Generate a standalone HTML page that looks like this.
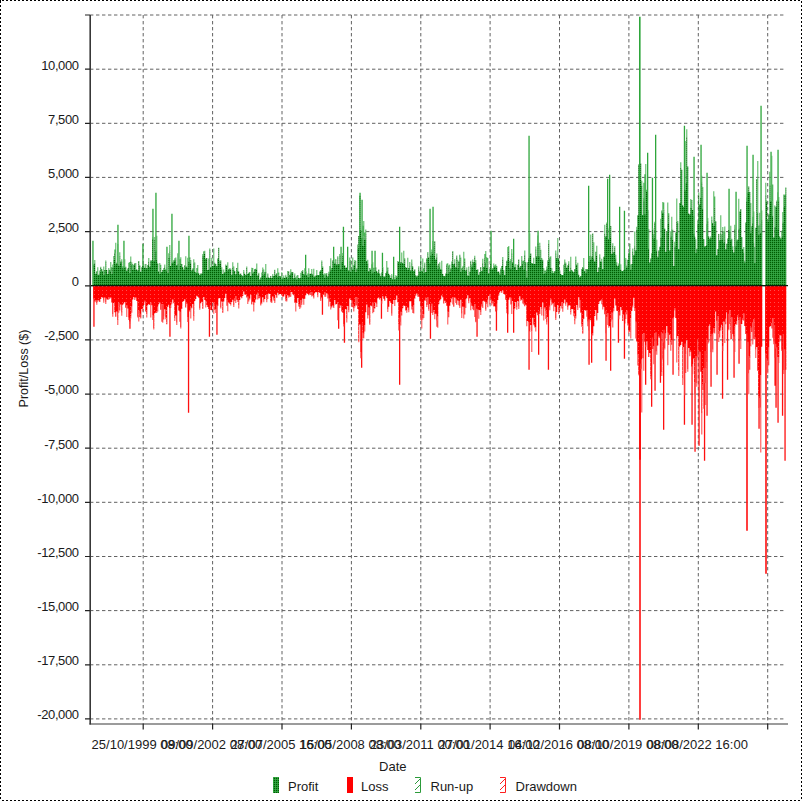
<!DOCTYPE html>
<html><head><meta charset="utf-8"><title>Profit/Loss</title>
<style>
html,body{margin:0;padding:0;background:#fff;}
body{width:802px;height:801px;overflow:hidden;font-family:"Liberation Sans",sans-serif;}
svg{display:block;}
text{font-family:"Liberation Sans",sans-serif;font-size:13px;fill:#1a1a1a;}
</style></head><body>
<svg width="802" height="801" viewBox="0 0 802 801">
<defs>
<pattern id="pg" width="2" height="2" patternUnits="userSpaceOnUse"><rect width="2" height="2" fill="#2a9837"/><rect x="0" y="0" width="1" height="1" fill="#005c00"/><rect x="1" y="1" width="1" height="1" fill="#36a846"/></pattern>
<pattern id="pr" width="4" height="4" patternUnits="userSpaceOnUse"><rect width="4" height="4" fill="#ff0000"/><rect x="2" y="2" width="1" height="1" fill="#ff4d4d"/></pattern>
<pattern id="plg" width="2" height="2" patternUnits="userSpaceOnUse"><rect width="2" height="2" fill="#2faa3c"/><rect x="0" y="1" width="2" height="1" fill="#a6dba6"/></pattern>
<pattern id="plr" width="2" height="2" patternUnits="userSpaceOnUse"><rect width="2" height="2" fill="#ff1a1a"/><rect x="0" y="1" width="2" height="1" fill="#ffa8a8"/></pattern>
</defs>
<rect width="802" height="801" fill="#fff"/>
<path d="M0 0.5H802M0 800.5H802" stroke="#000" stroke-width="1" stroke-dasharray="2 2" stroke-dashoffset="2" fill="none"/>
<path d="M0.5 0V801M801.5 0V801" stroke="#000" stroke-width="1" stroke-dasharray="2 2" stroke-dashoffset="3" fill="none"/><rect x="0" y="0" width="1" height="1" fill="#000"/>
<path d="M90 15H786M90 69.2H786M90 123.3H786M90 177.4H786M90 231.6H786M90 285.8H786M90 339.9H786M90 394.1H786M90 448.2H786M90 502.3H786M90 556.5H786M90 610.6H786M90 664.8H786M90 718.9H786M143.2 15V724M212.6 15V724M282 15V724M351.4 15V724M420.8 15V724M490.1 15V724M559.5 15V724M628.9 15V724M698.3 15V724M767.7 15V724" stroke="#626262" stroke-width="1" stroke-dasharray="3.4 2.6" fill="none"/>
<path d="M92.3 285.7V240.7h1.3V285.7zM117.3 285.7V224.7h1.3V285.7zM123.3 285.7V240.7h1.3V285.7zM142.3 285.7V243.7h1.3V285.7zM152.3 285.7V208.7h1.3V285.7zM155.3 285.7V192.7h1.3V285.7zM166.3 285.7V246.7h1.3V285.7zM171.3 285.7V213.7h1.3V285.7zM178.3 285.7V240.7h1.3V285.7zM188.3 285.7V235.7h1.3V285.7zM305 285.7V254.7h1.3V285.7zM333 285.7V246.7h1.3V285.7zM340.4 285.7V246.7h1.3V285.7zM342.8 285.7V226.7h1.3V285.7zM347 285.7V246.7h1.3V285.7zM359.4 285.7V192.7h1.3V285.7zM361.4 285.7V199.7h1.3V285.7zM371.4 285.7V250.7h1.3V285.7zM374.4 285.7V250.7h1.3V285.7zM381.8 285.7V252.7h1.3V285.7zM393 285.7V256.7h1.3V285.7zM399 285.7V226.7h1.3V285.7zM429.4 285.7V208.7h1.3V285.7zM432.4 285.7V206.7h1.3V285.7zM490.4 285.7V230.7h1.3V285.7zM513 285.7V238.7h1.3V285.7zM528.4 285.7V135.7h1.3V285.7zM537.4 285.7V230.7h1.3V285.7zM588 285.7V185.7h1.3V285.7zM607 285.7V178.7h1.3V285.7zM609 285.7V174.7h1.3V285.7zM619 285.7V206.7h1.3V285.7zM623.8 285.7V210.7h1.3V285.7zM639.1 285.7V16.7h1.3V285.7zM639 285.7V16.7h1.6V285.7zM643.4 285.7V182.7h1.3V285.7zM647 285.7V152.7h1.3V285.7zM651.8 285.7V177.7h1.3V285.7zM655 285.7V134.7h1.3V285.7zM683.8 285.7V125.7h1.3V285.7zM693.4 285.7V156.7h1.3V285.7zM700.4 285.7V144.7h1.3V285.7zM706.4 285.7V172.7h1.3V285.7zM728.4 285.7V188.7h1.3V285.7zM735.4 285.7V191.7h1.3V285.7zM746.4 285.7V145.7h1.3V285.7zM752.4 285.7V154.7h1.3V285.7zM760.4 285.7V105.7h1.3V285.7zM770.4 285.7V151.7h1.3V285.7zM777.4 285.7V149.7h1.3V285.7z" fill="#2ea63b"/>
<path d="M93.3 285.7V326.7h1.3V285.7zM129.3 285.7V328.7h1.3V285.7zM169.3 285.7V336.7h1.3V285.7zM187.9 285.7V412.7h1.3V285.7zM208.8 285.7V336.7h1.3V285.7zM216.3 285.7V334.7h1.3V285.7zM321.8 285.7V314.7h1.3V285.7zM338 285.7V328.7h1.3V285.7zM343.8 285.7V342.7h1.3V285.7zM361 285.7V367.7h1.3V285.7zM380.8 285.7V318.7h1.3V285.7zM399 285.7V384.7h1.3V285.7zM429.8 285.7V338.7h1.3V285.7zM476.4 285.7V336.7h1.3V285.7zM495.8 285.7V330.7h1.3V285.7zM507 285.7V332.7h1.3V285.7zM513 285.7V332.7h1.3V285.7zM528.4 285.7V369.7h1.3V285.7zM538 285.7V354.7h1.3V285.7zM547.8 285.7V369.7h1.3V285.7zM588.4 285.7V364.7h1.3V285.7zM591 285.7V362.7h1.3V285.7zM605.4 285.7V360.7h1.3V285.7zM610 285.7V370.7h1.3V285.7zM617.8 285.7V342.7h1.3V285.7zM623.8 285.7V358.7h1.3V285.7zM639.4 285.7V719.7h1.3V285.7zM639.2 285.7V719.7h1.6V285.7zM639 285.7V459.7h2V285.7zM645 285.7V384.7h1.3V285.7zM651 285.7V406.7h1.3V285.7zM654.4 285.7V390.7h1.3V285.7zM659.8 285.7V382.7h1.3V285.7zM663 285.7V429.7h1.3V285.7zM672.4 285.7V374.7h1.3V285.7zM683.8 285.7V424.7h1.3V285.7zM691.4 285.7V424.7h1.3V285.7zM694.4 285.7V451.7h1.3V285.7zM698.4 285.7V445.7h1.3V285.7zM703.9 285.7V460.7h1.3V285.7zM706.4 285.7V415.7h1.3V285.7zM710.4 285.7V386.7h1.3V285.7zM716.4 285.7V374.7h1.3V285.7zM721.9 285.7V398.7h1.3V285.7zM726.9 285.7V379.7h1.3V285.7zM733.4 285.7V377.7h1.3V285.7zM738.4 285.7V363.7h1.3V285.7zM746.4 285.7V530.7h1.3V285.7zM746.2 285.7V530.7h1.6V285.7zM758.4 285.7V428.7h1.3V285.7zM765.4 285.7V573.7h1.3V285.7zM765.2 285.7V573.7h1.6V285.7zM774.4 285.7V385.7h1.3V285.7zM775.4 285.7V407.7h1.3V285.7zM777.4 285.7V422.7h1.3V285.7zM781.9 285.7V415.7h1.3V285.7zM784.4 285.7V460.7h1.3V285.7z" fill="#ff1010"/>
<path d="M94.3 263.1V259.9h1V263.1zM96.3 271.5V271.1h1V271.5zM97.3 274.4V267.2h1V274.4zM99.3 272.3V270.5h1V272.3zM100.3 267.2V266.7h1V267.2zM103.3 275.1V266.5h1V275.1zM105.3 261.4V260.5h1V261.4zM108.3 270.2V267.9h1V270.2zM110.3 271.2V262.1h1V271.2zM111.3 273.7V267.2h1V273.7zM112.3 267.5V264.5h1V267.5zM113.3 259.7V256.1h1V259.7zM114.3 252.7V249.5h1V252.7zM115.3 264.3V242.8h1V264.3zM117.3 264V244h1V264zM119.3 255.8V252.3h1V255.8zM120.3 262.6V261.2h1V262.6zM121.3 260.9V259.2h1V260.9zM122.3 268.3V266.3h1V268.3zM123.3 268.6V266h1V268.6zM124.3 267.8V259.3h1V267.8zM128.3 267.3V262.7h1V267.3zM129.3 272.9V262h1V272.9zM130.3 260.9V256.6h1V260.9zM131.3 264.5V262.3h1V264.5zM132.3 269.8V264h1V269.8zM135.3 269.8V263.1h1V269.8zM148.3 261.9V258.1h1V261.9zM152.3 239V237.2h1V239zM154.3 239.8V237h1V239.8zM155.3 251.8V250.1h1V251.8zM156.3 260.3V235.8h1V260.3zM159.3 273.7V262.9h1V273.7zM160.3 267.4V264.7h1V267.4zM163.3 269.9V268h1V269.9zM164.3 266.6V264.4h1V266.6zM166.3 271V267.5h1V271zM168.3 257.5V253.3h1V257.5zM169.3 250.2V245h1V250.2zM174.3 260.4V258.2h1V260.4zM175.3 258.7V257.4h1V258.7zM177.3 264V253.3h1V264zM179.3 265.9V259.2h1V265.9zM180.3 264V257.3h1V264zM185.3 267V256.2h1V267zM187.3 267.5V257.7h1V267.5zM188.3 262.3V261.5h1V262.3zM189.3 257.9V257.1h1V257.9zM190.3 263.3V260h1V263.3zM193.3 262.4V259.3h1V262.4zM194.3 271.2V262.5h1V271.2zM196.3 273V268.1h1V273zM197.3 271.4V265h1V271.4zM202.3 256.3V253.9h1V256.3zM204.3 253.7V250.8h1V253.7zM208.3 269.2V258.4h1V269.2zM209.3 250.1V248.6h1V250.1zM211.3 260.3V257.7h1V260.3zM213.3 265.2V248.5h1V265.2zM219.3 264V260.8h1V264zM220.3 261.1V260.3h1V261.1zM221.3 269.5V267.3h1V269.5zM223.3 272.8V269.6h1V272.8zM225.3 266V264.5h1V266zM227.3 270.5V262.3h1V270.5zM229.3 268.6V268h1V268.6zM230.3 269.8V268.8h1V269.8zM232.3 267.3V262.2h1V267.3zM233.3 269.4V266.6h1V269.4zM237.3 270.7V262.7h1V270.7zM243.3 271.6V270.1h1V271.6zM246.3 267.7V266.4h1V267.7zM251.3 269.8V267.7h1V269.8zM252.3 273.3V268.1h1V273.3zM256.3 269.5V263.6h1V269.5zM258.3 273.4V272.7h1V273.4zM261.3 275.5V272.4h1V275.5zM262.3 270.3V267.6h1V270.3zM263.3 274.4V269.4h1V274.4zM265.3 272.1V263.9h1V272.1zM267.3 274.2V273.4h1V274.2zM272.3 275.4V273.9h1V275.4zM274.3 270.3V269.8h1V270.3zM277.3 276.7V268.3h1V276.7zM278.3 275.4V272.5h1V275.4zM281.3 279.1V272.2h1V279.1zM282.3 278.2V277.5h1V278.2zM283.3 276.9V275.5h1V276.9zM285.3 275.8V274.7h1V275.8zM287.3 278.4V270.9h1V278.4zM288.3 271.6V271.2h1V271.6zM290.3 272.7V269.3h1V272.7zM292.3 272.6V272h1V272.6zM294.3 274.8V273.5h1V274.8zM296.3 279.2V275.7h1V279.2zM300.3 277.4V272.7h1V277.4zM301.3 272.3V270.9h1V272.3zM302.3 270.5V270.1h1V270.5zM304.3 274.7V268.2h1V274.7zM305.3 272V271h1V272zM307.3 276.6V273.5h1V276.6zM308.3 276.8V268.2h1V276.8zM311.3 272.4V269.1h1V272.4zM313.3 276.5V268.7h1V276.5zM316.3 274.7V270h1V274.7zM321.3 261.5V260.5h1V261.5zM322.3 268V266.4h1V268zM324.3 277.6V273.3h1V277.6zM325.3 274.6V273.8h1V274.6zM326.3 274.6V273.1h1V274.6zM328.3 273.5V271.7h1V273.5zM329.3 271.2V265.9h1V271.2zM330.3 269.9V258.3h1V269.9zM333.3 260.5V257.5h1V260.5zM335.3 259.9V259.1h1V259.9zM337.3 256.9V256.3h1V256.9zM339.3 255.2V254.1h1V255.2zM342.3 255.7V253.1h1V255.7zM349.3 260.5V257.6h1V260.5zM350.3 271.4V260.3h1V271.4zM352.3 269.6V257.5h1V269.6zM354.3 261.7V260h1V261.7zM355.3 271.9V260.8h1V271.9zM357.3 248.6V244.5h1V248.6zM359.3 196.1V195.4h1V196.1zM362.3 245.9V225.8h1V245.9zM363.3 236.6V221.1h1V236.6zM364.3 239.5V232.5h1V239.5zM365.3 233.7V229.6h1V233.7zM367.3 263.6V259.7h1V263.6zM371.3 273.4V264.2h1V273.4zM372.3 272.5V262.2h1V272.5zM381.3 273.1V272.3h1V273.1zM382.3 268.5V266.9h1V268.5zM386.3 271.1V261.1h1V271.1zM391.3 275.7V274h1V275.7zM395.3 278.3V275.3h1V278.3zM396.3 277V276.1h1V277zM397.3 262.6V261h1V262.6zM401.3 261.5V252.4h1V261.5zM403.3 263.9V250.7h1V263.9zM407.3 269.8V257.8h1V269.8zM409.3 265.2V262.1h1V265.2zM411.3 262.4V259.4h1V262.4zM414.3 269.9V269.3h1V269.9zM418.3 268.2V266.3h1V268.2zM420.3 261.3V257.2h1V261.3zM422.3 271.3V258.4h1V271.3zM423.3 273V268.2h1V273zM424.3 264.3V262.5h1V264.3zM426.3 258.7V258.2h1V258.7zM427.3 252.4V251.9h1V252.4zM430.3 255.5V252h1V255.5zM431.3 251.4V249.6h1V251.4zM432.3 254.1V241.1h1V254.1zM433.3 255.9V246.4h1V255.9zM436.3 257.1V253.5h1V257.1zM437.3 268.9V265.5h1V268.9zM439.3 266.5V262.3h1V266.5zM441.3 269.3V260.7h1V269.3zM446.3 265.1V263.8h1V265.1zM447.3 273.5V263.2h1V273.5zM448.3 266.7V265.5h1V266.7zM449.3 272V264.6h1V272zM451.3 263.5V261.4h1V263.5zM452.3 251.5V251h1V251.5zM454.3 263.1V259.3h1V263.1zM456.3 256.4V255.6h1V256.4zM457.3 268.3V259.7h1V268.3zM460.3 271.8V257.6h1V271.8zM461.3 270.3V268.3h1V270.3zM462.3 267.9V266.2h1V267.9zM463.3 270V251.8h1V270zM464.3 261.5V258.4h1V261.5zM466.3 270V267.4h1V270zM468.3 275.9V266.6h1V275.9zM470.3 261.5V260.7h1V261.5zM471.3 267.1V264.4h1V267.1zM472.3 261.6V259.4h1V261.6zM474.3 257.2V255.8h1V257.2zM475.3 262.8V260h1V262.8zM482.3 262.7V258.8h1V262.7zM484.3 258.2V254.1h1V258.2zM485.3 262.4V251h1V262.4zM486.3 267.8V257.2h1V267.8zM487.3 261V258h1V261zM488.3 273.6V272.9h1V273.6zM490.3 264.1V257.2h1V264.1zM493.3 265.5V263.6h1V265.5zM494.3 267V265.5h1V267zM495.3 267V264.3h1V267zM496.3 267.8V266.1h1V267.8zM499.3 275V273.2h1V275zM500.3 269.6V268.3h1V269.6zM502.3 259.3V257h1V259.3zM507.3 258.3V247.1h1V258.3zM508.3 251.1V246h1V251.1zM509.3 268V260.9h1V268zM510.3 268.6V259.1h1V268.6zM511.3 253.1V248.9h1V253.1zM515.3 267V263.9h1V267zM521.3 259.3V255.9h1V259.3zM522.3 264.3V261.1h1V264.3zM523.3 269.2V260.4h1V269.2zM524.3 255V250.6h1V255zM526.3 277.6V270.8h1V277.6zM529.3 256V233.2h1V256zM533.3 263.5V257.8h1V263.5zM535.3 248.7V246.6h1V248.7zM537.3 242.7V235.5h1V242.7zM539.3 245.7V242.8h1V245.7zM540.3 259.7V249.7h1V259.7zM541.3 259V258h1V259zM542.3 260.5V259.7h1V260.5zM543.3 273.7V268h1V273.7zM544.3 272.8V270.6h1V272.8zM545.3 272.2V270.4h1V272.2zM546.3 269.1V266.4h1V269.1zM547.3 262.1V260.2h1V262.1zM548.3 244.1V240.1h1V244.1zM549.3 258.8V257.3h1V258.8zM550.3 268V256.3h1V268zM551.3 272.9V267.9h1V272.9zM552.3 273.1V271.1h1V273.1zM555.3 253.1V250.6h1V253.1zM557.3 254.2V238h1V254.2zM563.3 272.6V264.8h1V272.6zM564.3 262.4V259.6h1V262.4zM565.3 263.4V262.5h1V263.4zM568.3 263.3V261.2h1V263.3zM570.3 267.3V256.8h1V267.3zM575.3 259.7V256.6h1V259.7zM577.3 270.2V262.7h1V270.2zM583.3 268.2V258h1V268.2zM585.3 273V268.9h1V273zM590.3 259.4V234.5h1V259.4zM593.3 258.4V242.3h1V258.4zM596.3 255.7V245.8h1V255.7zM599.3 257.1V254.2h1V257.1zM601.3 261.4V258.8h1V261.4zM604.3 233.5V224.7h1V233.5zM606.3 223.9V222.5h1V223.9zM612.3 245.6V243.3h1V245.6zM614.3 248.1V246.1h1V248.1zM615.3 258.4V254.7h1V258.4zM616.3 264.7V262.3h1V264.7zM618.3 264.7V263.5h1V264.7zM620.3 269.9V264.3h1V269.9zM625.3 259.2V258.1h1V259.2zM626.3 267.6V265.4h1V267.6zM629.3 244V243.4h1V244zM630.3 269.6V264.6h1V269.6zM632.3 251.9V248.4h1V251.9zM634.3 246.3V231.5h1V246.3zM636.3 229.7V226.8h1V229.7zM641.3 186.1V180.7h1V186.1zM643.3 201.3V197.9h1V201.3zM644.3 214.4V174.3h1V214.4zM645.3 192.1V163.9h1V192.1zM646.3 191.8V189.7h1V191.8zM648.3 248.7V228.9h1V248.7zM652.3 230.2V228.3h1V230.2zM653.3 238.5V234.2h1V238.5zM654.3 223.1V221.7h1V223.1zM656.3 250.4V239.7h1V250.4zM657.3 257.2V256.4h1V257.2zM660.3 237.6V218.7h1V237.6zM662.3 213.1V201.9h1V213.1zM663.3 209.5V202.4h1V209.5zM666.3 232.3V231.5h1V232.3zM667.3 223.5V202.5h1V223.5zM668.3 215.1V213.3h1V215.1zM670.3 236.5V231.3h1V236.5zM671.3 228.5V216.8h1V228.5zM672.3 239.8V229.8h1V239.8zM674.3 246.4V241.8h1V246.4zM676.3 221.4V198.6h1V221.4zM677.3 223V221h1V223zM680.3 167.8V162.3h1V167.8zM685.3 182.7V141h1V182.7zM686.3 136.7V129.2h1V136.7zM690.3 207.9V199.1h1V207.9zM693.3 234.1V216.1h1V234.1zM695.3 253.1V239.3h1V253.1zM697.3 223.8V220.6h1V223.8zM698.3 195.7V192.6h1V195.7zM701.3 182.4V175.7h1V182.4zM702.3 208.9V186.9h1V208.9zM706.3 245V224.1h1V245zM707.3 220.9V218h1V220.9zM710.3 238V236.2h1V238zM711.3 219.5V216.4h1V219.5zM713.3 225.7V191.2h1V225.7zM714.3 207.2V196.5h1V207.2zM720.3 232.9V215.3h1V232.9zM721.3 239.6V234.3h1V239.6zM722.3 231.6V227.1h1V231.6zM723.3 242.4V231.6h1V242.4zM724.3 239.1V226.6h1V239.1zM730.3 240.2V225.7h1V240.2zM732.3 249.9V246.3h1V249.9zM734.3 228.7V224.8h1V228.7zM738.3 228.7V198.7h1V228.7zM743.3 252.6V247h1V252.6zM744.3 262.6V260.7h1V262.6zM746.3 201.5V197.5h1V201.5zM750.3 233V203h1V233zM752.3 223V216.7h1V223zM753.3 242.7V211.4h1V242.7zM754.3 263.1V247h1V263.1zM757.3 212.6V161.1h1V212.6zM758.3 234.5V225.6h1V234.5zM759.3 224.3V212.7h1V224.3zM761.3 220.2V210.6h1V220.2zM765.3 194.5V182.7h1V194.5zM766.3 202.2V200.6h1V202.2zM767.3 222V219.3h1V222zM769.3 185.1V171.8h1V185.1zM771.3 200.9V155.8h1V200.9zM772.3 216.3V184.4h1V216.3zM774.3 226.9V205.6h1V226.9zM776.3 201.5V200.4h1V201.5zM777.3 229.2V192.3h1V229.2zM778.3 200.7V196.9h1V200.7zM781.3 236.8V230.8h1V236.8zM782.3 222.6V212.1h1V222.6zM783.3 206.5V194.5h1V206.5z" fill="#4db458"/>
<path d="M94.3 301.2V302.3h1V301.2zM95.3 300.1V301.4h1V300.1zM96.3 303.3V304.7h1V303.3zM97.3 300V301.7h1V300zM102.3 297.4V297.9h1V297.4zM103.3 300.7V302.8h1V300.7zM105.3 302.1V304.1h1V302.1zM107.3 299.6V300.1h1V299.6zM108.3 296.9V299.5h1V296.9zM112.3 314V316.7h1V314zM117.3 320.2V324.9h1V320.2zM118.3 302.8V312.8h1V302.8zM119.3 307.3V310.4h1V307.3zM121.3 312.8V315.8h1V312.8zM126.3 305.2V317h1V305.2zM128.3 317.8V320.1h1V317.8zM129.3 321.4V323.9h1V321.4zM130.3 315.9V318.6h1V315.9zM131.3 306.6V312.8h1V306.6zM134.3 299.4V300.1h1V299.4zM137.3 316.8V317.4h1V316.8zM138.3 310.7V321.4h1V310.7zM139.3 313.8V317.1h1V313.8zM140.3 317.7V318.6h1V317.7zM142.3 308.6V311.5h1V308.6zM144.3 300.8V302.2h1V300.8zM146.3 314.5V317.6h1V314.5zM150.3 302.5V317.5h1V302.5zM152.3 315.5V319.9h1V315.5zM153.3 328V329.5h1V328zM155.3 312.4V313h1V312.4zM156.3 311V312.9h1V311zM157.3 306.7V311.4h1V306.7zM161.3 304.2V321.8h1V304.2zM162.3 304.2V322.7h1V304.2zM163.3 316V319.5h1V316zM165.3 317.6V319.2h1V317.6zM170.3 305.1V308h1V305.1zM171.3 302.6V304.3h1V302.6zM174.3 318.9V321.1h1V318.9zM176.3 322.8V324.9h1V322.8zM179.3 311.8V321.7h1V311.8zM180.3 327.2V328.5h1V327.2zM187.3 316.9V321.9h1V316.9zM190.3 307.3V318.5h1V307.3zM193.3 316.6V320.7h1V316.6zM199.3 308.3V309.8h1V308.3zM202.3 308.5V309.1h1V308.5zM205.3 300.9V307.4h1V300.9zM213.3 303.4V313.7h1V303.4zM214.3 309.6V310h1V309.6zM215.3 309V313h1V309zM220.3 307.6V308.4h1V307.6zM222.3 312.1V312.9h1V312.1zM226.3 299.7V305.7h1V299.7zM227.3 302.7V311.3h1V302.7zM230.3 304.2V305.6h1V304.2zM233.3 305V306.9h1V305zM234.3 299.3V300.9h1V299.3zM235.3 295.9V302.9h1V295.9zM237.3 300.1V302h1V300.1zM238.3 305.3V308.4h1V305.3zM247.3 296.5V304.1h1V296.5zM248.3 300.2V301.5h1V300.2zM249.3 298.5V299.6h1V298.5zM251.3 304.2V304.6h1V304.2zM253.3 304.9V311.6h1V304.9zM257.3 292.7V299.6h1V292.7zM258.3 296.6V298.3h1V296.6zM259.3 296.7V298.3h1V296.7zM260.3 304.8V305.6h1V304.8zM261.3 302.7V303.8h1V302.7zM263.3 300.7V302.2h1V300.7zM266.3 300.2V302.2h1V300.2zM267.3 294.1V299h1V294.1zM270.3 300.7V302.2h1V300.7zM273.3 298.8V300.5h1V298.8zM274.3 301.6V302.9h1V301.6zM276.3 297.2V298.1h1V297.2zM278.3 293.9V295.3h1V293.9zM282.3 296.2V297.2h1V296.2zM285.3 299.4V301.2h1V299.4zM286.3 300.6V301.6h1V300.6zM288.3 296.7V297.7h1V296.7zM289.3 295.7V296.9h1V295.7zM290.3 292V296.7h1V292zM295.3 302.5V311.6h1V302.5zM298.3 304V306.4h1V304zM299.3 307.3V308.9h1V307.3zM300.3 299.9V307.4h1V299.9zM301.3 303.3V304.8h1V303.3zM303.3 299.3V304.8h1V299.3zM309.3 293.5V294.5h1V293.5zM310.3 292.5V295h1V292.5zM311.3 292.1V296.6h1V292.1zM312.3 295.1V295.8h1V295.1zM313.3 297.6V298.4h1V297.6zM317.3 295.6V297.3h1V295.6zM320.3 299.7V301h1V299.7zM324.3 292.2V296.8h1V292.2zM325.3 295.4V296.7h1V295.4zM327.3 294.6V298.4h1V294.6zM328.3 298.3V306.6h1V298.3zM330.3 306V309.5h1V306zM333.3 307.5V308h1V307.5zM337.3 302.3V320.2h1V302.3zM343.3 324.2V326.6h1V324.2zM346.3 319.1V322.5h1V319.1zM348.3 310.3V312.2h1V310.3zM351.3 300.5V307.1h1V300.5zM352.3 304.2V307.2h1V304.2zM353.3 308.6V311.6h1V308.6zM354.3 306.6V307.4h1V306.6zM355.3 296.9V305.6h1V296.9zM356.3 297.6V305.6h1V297.6zM358.3 341.3V342.2h1V341.3zM360.3 352.3V358.2h1V352.3zM362.3 332.8V338.4h1V332.8zM363.3 334.1V338.3h1V334.1zM364.3 325.1V331.6h1V325.1zM367.3 314.9V318.5h1V314.9zM368.3 307.5V315.2h1V307.5zM369.3 323.8V324.7h1V323.8zM372.3 302.4V313.2h1V302.4zM373.3 308.2V311.9h1V308.2zM376.3 303.9V307h1V303.9zM381.3 301.1V303.7h1V301.1zM384.3 299.9V300.9h1V299.9zM387.3 309.6V312.1h1V309.6zM391.3 313.7V315.7h1V313.7zM394.3 300.2V305.9h1V300.2zM398.3 324.1V330.5h1V324.1zM399.3 317.4V321.7h1V317.4zM400.3 311.7V325.6h1V311.7zM401.3 312.6V315.6h1V312.6zM406.3 311.4V312.7h1V311.4zM408.3 310.6V312.2h1V310.6zM411.3 306.5V309.6h1V306.5zM412.3 307.4V313.1h1V307.4zM413.3 305.2V313.4h1V305.2zM415.3 294.8V296h1V294.8zM417.3 295.3V296.7h1V295.3zM420.3 306.2V320.2h1V306.2zM421.3 308.7V328.6h1V308.7zM422.3 318.6V319.6h1V318.6zM423.3 313.9V317.9h1V313.9zM425.3 297.8V300.8h1V297.8zM426.3 305V307h1V305zM427.3 297.2V304.7h1V297.2zM428.3 309.3V310.8h1V309.3zM431.3 303.8V313h1V303.8zM432.3 311V315.1h1V311zM433.3 310.1V312.3h1V310.1zM434.3 314.7V319.2h1V314.7zM436.3 320.8V326.8h1V320.8zM437.3 316.4V327.8h1V316.4zM442.3 297.2V297.6h1V297.2zM447.3 311.8V324.6h1V311.8zM448.3 312.5V317.2h1V312.5zM452.3 297.1V304.5h1V297.1zM453.3 306.3V307.1h1V306.3zM455.3 298.8V302.9h1V298.8zM456.3 304.4V305h1V304.4zM458.3 300.9V305.2h1V300.9zM459.3 306.6V308h1V306.6zM461.3 313.8V317.9h1V313.8zM463.3 306.7V318.6h1V306.7zM465.3 299.4V308.1h1V299.4zM468.3 300.9V303.2h1V300.9zM470.3 303.3V310.3h1V303.3zM472.3 306.4V309.2h1V306.4zM474.3 304.1V317h1V304.1zM475.3 321.7V322.3h1V321.7zM478.3 310.9V318.8h1V310.9zM480.3 312V315h1V312zM481.3 304.6V306.6h1V304.6zM482.3 301.1V308h1V301.1zM485.3 309.4V310.7h1V309.4zM487.3 299.8V307.2h1V299.8zM489.3 294.5V304.4h1V294.5zM491.3 303.1V305.4h1V303.1zM492.3 301.1V303.6h1V301.1zM493.3 305.9V306.6h1V305.9zM496.3 303.4V310.4h1V303.4zM506.3 309.2V313.2h1V309.2zM510.3 297.8V304.6h1V297.8zM511.3 304.6V314.1h1V304.6zM513.3 308.9V310.4h1V308.9zM514.3 307.9V308.7h1V307.9zM516.3 307.3V309.8h1V307.3zM518.3 307.6V309.1h1V307.6zM520.3 299V300.7h1V299zM522.3 298.7V303.4h1V298.7zM523.3 302.7V304.5h1V302.7zM526.3 321.1V326.2h1V321.1zM529.3 331V331.9h1V331zM531.3 331V351.9h1V331zM533.3 324.3V325.2h1V324.3zM534.3 327V327.5h1V327zM535.3 327.2V331.6h1V327.2zM541.3 308.9V315.4h1V308.9zM543.3 316.1V320.4h1V316.1zM544.3 307.3V308.4h1V307.3zM545.3 311.3V319.1h1V311.3zM546.3 322.1V324.6h1V322.1zM549.3 307.2V310.3h1V307.2zM550.3 298.8V300.2h1V298.8zM551.3 302.4V305.3h1V302.4zM553.3 303V311.3h1V303zM555.3 318.1V320h1V318.1zM558.3 312V313.9h1V312zM559.3 308.6V310.8h1V308.6zM561.3 302.1V308.4h1V302.1zM562.3 308.8V311.8h1V308.8zM565.3 304V305.8h1V304zM567.3 307.4V309.7h1V307.4zM570.3 312.2V314.6h1V312.2zM573.3 313V316.2h1V313zM574.3 320.7V324.2h1V320.7zM575.3 316.1V318.6h1V316.1zM577.3 307.8V310.1h1V307.8zM579.3 300V307.8h1V300zM580.3 312.2V312.9h1V312.2zM581.3 324.1V326.7h1V324.1zM582.3 332.9V333.8h1V332.9zM585.3 310.6V311.1h1V310.6zM586.3 310V316.8h1V310zM587.3 321.7V326.2h1V321.7zM588.3 319.6V330.4h1V319.6zM589.3 319.6V321.5h1V319.6zM591.3 334.2V335.6h1V334.2zM592.3 333V335.5h1V333zM596.3 319.8V320.4h1V319.8zM601.3 299.6V304.2h1V299.6zM602.3 305.8V309.6h1V305.8zM605.3 310.8V333.2h1V310.8zM607.3 313.3V325h1V313.3zM608.3 326.2V327.7h1V326.2zM611.3 312.5V319.6h1V312.5zM612.3 313.8V327.6h1V313.8zM613.3 308V311.2h1V308zM618.3 311.6V319.2h1V311.6zM625.3 312.6V319h1V312.6zM626.3 310.6V314.2h1V310.6zM627.3 323.4V325.4h1V323.4zM628.3 330.3V333.4h1V330.3zM630.3 318.3V338.4h1V318.3zM632.3 305.7V307.5h1V305.7zM634.3 308.3V310.9h1V308.3zM635.3 321.8V338.4h1V321.8zM637.3 354.8V365.4h1V354.8zM640.3 363.5V368.7h1V363.5zM641.3 359.4V412.6h1V359.4zM642.3 334.3V358.3h1V334.3zM643.3 333.1V370.7h1V333.1zM645.3 345.2V346.8h1V345.2zM650.3 376.2V379.2h1V376.2zM653.3 346.1V364.3h1V346.1zM655.3 332.2V351.2h1V332.2zM656.3 346.2V354.7h1V346.2zM658.3 335.7V337.4h1V335.7zM661.3 372.2V376.1h1V372.2zM662.3 333.4V359.6h1V333.4zM663.3 329.8V342.5h1V329.8zM664.3 348.3V349.4h1V348.3zM665.3 333.4V338.3h1V333.4zM667.3 332.8V365.2h1V332.8zM668.3 339.3V345.1h1V339.3zM670.3 343.1V350.7h1V343.1zM671.3 339.9V344.7h1V339.9zM674.3 308.2V310.5h1V308.2zM676.3 338.2V362.6h1V338.2zM678.3 371.6V376.1h1V371.6zM682.3 379.5V385h1V379.5zM684.3 343.5V395.3h1V343.5zM685.3 354.4V372.9h1V354.4zM687.3 369.2V371.8h1V369.2zM689.3 352.6V356.3h1V352.6zM692.3 363.9V374.3h1V363.9zM694.3 382.5V394.4h1V382.5zM695.3 355.9V361.4h1V355.9zM696.3 383V386.7h1V383zM697.3 339.1V357.5h1V339.1zM701.3 413.6V434.6h1V413.6zM702.3 384V390.1h1V384zM703.3 368.3V408.8h1V368.3zM704.3 351.1V382.9h1V351.1zM705.3 368.6V405.1h1V368.6zM706.3 338.6V362.2h1V338.6zM707.3 339.9V343.9h1V339.9zM708.3 326.2V342.6h1V326.2zM709.3 324.1V325.6h1V324.1zM710.3 336.2V352.1h1V336.2zM712.3 349.8V352.3h1V349.8zM713.3 328.2V332.7h1V328.2zM714.3 328.1V333.5h1V328.1zM718.3 334.3V342.1h1V334.3zM719.3 331.1V337.5h1V331.1zM720.3 327.7V330.5h1V327.7zM722.3 345.7V350.9h1V345.7zM724.3 322.2V343h1V322.2zM725.3 318.8V324.3h1V318.8zM728.3 329.3V330.2h1V329.3zM729.3 310.1V324h1V310.1zM730.3 333.5V339.6h1V333.5zM731.3 317.2V339h1V317.2zM733.3 336.5V341.9h1V336.5zM734.3 327.3V352h1V327.3zM736.3 320.9V324.8h1V320.9zM737.3 315.3V317.2h1V315.3zM739.3 317V338.9h1V317zM740.3 324.4V348.9h1V324.4zM742.3 318.9V319.9h1V318.9zM743.3 313.6V320.7h1V313.6zM747.3 341.7V373.2h1V341.7zM748.3 356.2V394.2h1V356.2zM749.3 358.6V369.7h1V358.6zM750.3 327.6V346.6h1V327.6zM752.3 322.5V344.5h1V322.5zM753.3 319.3V338.7h1V319.3zM754.3 337.2V339.5h1V337.2zM755.3 349.7V358.1h1V349.7zM758.3 396V407.9h1V396zM759.3 397.9V407.5h1V397.9zM760.3 374.9V452.6h1V374.9zM765.3 353.2V370.5h1V353.2zM766.3 359V369.6h1V359zM767.3 361.6V373.4h1V361.6zM768.3 347.3V365.3h1V347.3zM771.3 322.9V328.5h1V322.9zM772.3 317.9V337.7h1V317.9zM773.3 341.7V344.3h1V341.7zM774.3 325.1V357.7h1V325.1zM775.3 343.8V348.5h1V343.8zM778.3 356.9V362.9h1V356.9zM779.3 335.3V341.7h1V335.3zM781.3 349.7V350.9h1V349.7zM783.3 370.2V374.1h1V370.2z" fill="#ff4545"/>
<path d="M93.3 285.7V264.5h1V285.7zM94.3 285.7V263.1h1V285.7zM95.3 285.7V273.8h1V285.7zM96.3 285.7V271.5h1V285.7zM97.3 285.7V274.4h1V285.7zM98.3 285.7V274.7h1V285.7zM99.3 285.7V272.3h1V285.7zM100.3 285.7V267.2h1V285.7zM101.3 285.7V269h1V285.7zM102.3 285.7V271.3h1V285.7zM103.3 285.7V275.1h1V285.7zM104.3 285.7V269.9h1V285.7zM105.3 285.7V261.4h1V285.7zM106.3 285.7V270.1h1V285.7zM107.3 285.7V274h1V285.7zM108.3 285.7V270.2h1V285.7zM109.3 285.7V269.8h1V285.7zM110.3 285.7V271.2h1V285.7zM111.3 285.7V273.7h1V285.7zM112.3 285.7V267.5h1V285.7zM113.3 285.7V259.7h1V285.7zM114.3 285.7V252.7h1V285.7zM115.3 285.7V264.3h1V285.7zM116.3 285.7V262.7h1V285.7zM117.3 285.7V264h1V285.7zM118.3 285.7V265.8h1V285.7zM119.3 285.7V255.8h1V285.7zM120.3 285.7V262.6h1V285.7zM121.3 285.7V260.9h1V285.7zM122.3 285.7V268.3h1V285.7zM123.3 285.7V268.6h1V285.7zM124.3 285.7V267.8h1V285.7zM125.3 285.7V266.8h1V285.7zM126.3 285.7V270.7h1V285.7zM127.3 285.7V268.6h1V285.7zM128.3 285.7V267.3h1V285.7zM129.3 285.7V272.9h1V285.7zM130.3 285.7V260.9h1V285.7zM131.3 285.7V264.5h1V285.7zM132.3 285.7V269.8h1V285.7zM133.3 285.7V265h1V285.7zM134.3 285.7V263.2h1V285.7zM135.3 285.7V269.8h1V285.7zM136.3 285.7V269.3h1V285.7zM137.3 285.7V270.5h1V285.7zM138.3 285.7V261.1h1V285.7zM139.3 285.7V265.5h1V285.7zM140.3 285.7V271.8h1V285.7zM141.3 285.7V267.2h1V285.7zM142.3 285.7V265.9h1V285.7zM143.3 285.7V264.2h1V285.7zM144.3 285.7V267.8h1V285.7zM145.3 285.7V264h1V285.7zM146.3 285.7V268.2h1V285.7zM147.3 285.7V265h1V285.7zM148.3 285.7V261.9h1V285.7zM149.3 285.7V266.7h1V285.7zM150.3 285.7V260.5h1V285.7zM151.3 285.7V260.5h1V285.7zM152.3 285.7V239h1V285.7zM153.3 285.7V261.1h1V285.7zM154.3 285.7V239.8h1V285.7zM155.3 285.7V251.8h1V285.7zM156.3 285.7V260.3h1V285.7zM157.3 285.7V263.5h1V285.7zM158.3 285.7V271.6h1V285.7zM159.3 285.7V273.7h1V285.7zM160.3 285.7V267.4h1V285.7zM161.3 285.7V272h1V285.7zM162.3 285.7V270h1V285.7zM163.3 285.7V269.9h1V285.7zM164.3 285.7V266.6h1V285.7zM165.3 285.7V269.4h1V285.7zM166.3 285.7V271h1V285.7zM167.3 285.7V273h1V285.7zM168.3 285.7V257.5h1V285.7zM169.3 285.7V250.2h1V285.7zM170.3 285.7V266h1V285.7zM171.3 285.7V263.2h1V285.7zM172.3 285.7V262.4h1V285.7zM173.3 285.7V260.2h1V285.7zM174.3 285.7V260.4h1V285.7zM175.3 285.7V258.7h1V285.7zM176.3 285.7V265.2h1V285.7zM177.3 285.7V264h1V285.7zM178.3 285.7V270.1h1V285.7zM179.3 285.7V265.9h1V285.7zM180.3 285.7V264h1V285.7zM181.3 285.7V264h1V285.7zM182.3 285.7V266.9h1V285.7zM183.3 285.7V269.4h1V285.7zM184.3 285.7V265.2h1V285.7zM185.3 285.7V267h1V285.7zM186.3 285.7V266.5h1V285.7zM187.3 285.7V267.5h1V285.7zM188.3 285.7V262.3h1V285.7zM189.3 285.7V257.9h1V285.7zM190.3 285.7V263.3h1V285.7zM191.3 285.7V270.5h1V285.7zM192.3 285.7V268.4h1V285.7zM193.3 285.7V262.4h1V285.7zM194.3 285.7V271.2h1V285.7zM195.3 285.7V272.2h1V285.7zM196.3 285.7V273h1V285.7zM197.3 285.7V271.4h1V285.7zM198.3 285.7V273.3h1V285.7zM199.3 285.7V275h1V285.7zM200.3 285.7V273.4h1V285.7zM201.3 285.7V273.4h1V285.7zM202.3 285.7V256.3h1V285.7zM203.3 285.7V251.2h1V285.7zM204.3 285.7V253.7h1V285.7zM205.3 285.7V258.8h1V285.7zM206.3 285.7V258h1V285.7zM207.3 285.7V270h1V285.7zM208.3 285.7V269.2h1V285.7zM209.3 285.7V250.1h1V285.7zM210.3 285.7V267.3h1V285.7zM211.3 285.7V260.3h1V285.7zM212.3 285.7V265.9h1V285.7zM213.3 285.7V265.2h1V285.7zM214.3 285.7V262.7h1V285.7zM215.3 285.7V264.1h1V285.7zM216.3 285.7V266.3h1V285.7zM217.3 285.7V258.5h1V285.7zM218.3 285.7V247.8h1V285.7zM219.3 285.7V264h1V285.7zM220.3 285.7V261.1h1V285.7zM221.3 285.7V269.5h1V285.7zM222.3 285.7V274.1h1V285.7zM223.3 285.7V272.8h1V285.7zM224.3 285.7V272.2h1V285.7zM225.3 285.7V266h1V285.7zM226.3 285.7V265.4h1V285.7zM227.3 285.7V270.5h1V285.7zM228.3 285.7V268.9h1V285.7zM229.3 285.7V268.6h1V285.7zM230.3 285.7V269.8h1V285.7zM231.3 285.7V274.8h1V285.7zM232.3 285.7V267.3h1V285.7zM233.3 285.7V269.4h1V285.7zM234.3 285.7V271h1V285.7zM235.3 285.7V274.3h1V285.7zM236.3 285.7V268h1V285.7zM237.3 285.7V270.7h1V285.7zM238.3 285.7V271.4h1V285.7zM239.3 285.7V274.4h1V285.7zM240.3 285.7V273.4h1V285.7zM241.3 285.7V275.1h1V285.7zM242.3 285.7V276.2h1V285.7zM243.3 285.7V271.6h1V285.7zM244.3 285.7V273.7h1V285.7zM245.3 285.7V275h1V285.7zM246.3 285.7V267.7h1V285.7zM247.3 285.7V274h1V285.7zM248.3 285.7V272.7h1V285.7zM249.3 285.7V272.1h1V285.7zM250.3 285.7V275.9h1V285.7zM251.3 285.7V269.8h1V285.7zM252.3 285.7V273.3h1V285.7zM253.3 285.7V271.8h1V285.7zM254.3 285.7V269.1h1V285.7zM255.3 285.7V268.7h1V285.7zM256.3 285.7V269.5h1V285.7zM257.3 285.7V275.6h1V285.7zM258.3 285.7V273.4h1V285.7zM259.3 285.7V279.4h1V285.7zM260.3 285.7V277.6h1V285.7zM261.3 285.7V275.5h1V285.7zM262.3 285.7V270.3h1V285.7zM263.3 285.7V274.4h1V285.7zM264.3 285.7V272.2h1V285.7zM265.3 285.7V272.1h1V285.7zM266.3 285.7V277.8h1V285.7zM267.3 285.7V274.2h1V285.7zM268.3 285.7V277.4h1V285.7zM269.3 285.7V278h1V285.7zM270.3 285.7V276.1h1V285.7zM271.3 285.7V278h1V285.7zM272.3 285.7V275.4h1V285.7zM273.3 285.7V275.9h1V285.7zM274.3 285.7V270.3h1V285.7zM275.3 285.7V274.8h1V285.7zM276.3 285.7V273.2h1V285.7zM277.3 285.7V276.7h1V285.7zM278.3 285.7V275.4h1V285.7zM279.3 285.7V276h1V285.7zM280.3 285.7V276.6h1V285.7zM281.3 285.7V279.1h1V285.7zM282.3 285.7V278.2h1V285.7zM283.3 285.7V276.9h1V285.7zM284.3 285.7V278h1V285.7zM285.3 285.7V275.8h1V285.7zM286.3 285.7V277.1h1V285.7zM287.3 285.7V278.4h1V285.7zM288.3 285.7V271.6h1V285.7zM289.3 285.7V275h1V285.7zM290.3 285.7V272.7h1V285.7zM291.3 285.7V272h1V285.7zM292.3 285.7V272.6h1V285.7zM293.3 285.7V278.3h1V285.7zM294.3 285.7V274.8h1V285.7zM295.3 285.7V277.6h1V285.7zM296.3 285.7V279.2h1V285.7zM297.3 285.7V274.9h1V285.7zM298.3 285.7V278h1V285.7zM299.3 285.7V278.3h1V285.7zM300.3 285.7V277.4h1V285.7zM301.3 285.7V272.3h1V285.7zM302.3 285.7V270.5h1V285.7zM303.3 285.7V274h1V285.7zM304.3 285.7V274.7h1V285.7zM305.3 285.7V272h1V285.7zM306.3 285.7V275h1V285.7zM307.3 285.7V276.6h1V285.7zM308.3 285.7V276.8h1V285.7zM309.3 285.7V273.8h1V285.7zM310.3 285.7V273.8h1V285.7zM311.3 285.7V272.4h1V285.7zM312.3 285.7V274.5h1V285.7zM313.3 285.7V276.5h1V285.7zM314.3 285.7V276.4h1V285.7zM315.3 285.7V275.5h1V285.7zM316.3 285.7V274.7h1V285.7zM317.3 285.7V275h1V285.7zM318.3 285.7V275h1V285.7zM319.3 285.7V271.4h1V285.7zM320.3 285.7V270.2h1V285.7zM321.3 285.7V261.5h1V285.7zM322.3 285.7V268h1V285.7zM323.3 285.7V274.4h1V285.7zM324.3 285.7V277.6h1V285.7zM325.3 285.7V274.6h1V285.7zM326.3 285.7V274.6h1V285.7zM327.3 285.7V276.5h1V285.7zM328.3 285.7V273.5h1V285.7zM329.3 285.7V271.2h1V285.7zM330.3 285.7V269.9h1V285.7zM331.3 285.7V268.1h1V285.7zM332.3 285.7V260.6h1V285.7zM333.3 285.7V260.5h1V285.7zM334.3 285.7V263.5h1V285.7zM335.3 285.7V259.9h1V285.7zM336.3 285.7V264.5h1V285.7zM337.3 285.7V256.9h1V285.7zM338.3 285.7V264.2h1V285.7zM339.3 285.7V255.2h1V285.7zM340.3 285.7V269.3h1V285.7zM341.3 285.7V262.3h1V285.7zM342.3 285.7V255.7h1V285.7zM343.3 285.7V266h1V285.7zM344.3 285.7V265.3h1V285.7zM345.3 285.7V267.8h1V285.7zM346.3 285.7V267.5h1V285.7zM347.3 285.7V270.6h1V285.7zM348.3 285.7V270.4h1V285.7zM349.3 285.7V260.5h1V285.7zM350.3 285.7V271.4h1V285.7zM351.3 285.7V268.5h1V285.7zM352.3 285.7V269.6h1V285.7zM353.3 285.7V265.3h1V285.7zM354.3 285.7V261.7h1V285.7zM355.3 285.7V271.9h1V285.7zM356.3 285.7V268.4h1V285.7zM357.3 285.7V248.6h1V285.7zM358.3 285.7V236.1h1V285.7zM359.3 285.7V196.1h1V285.7zM360.3 285.7V230.5h1V285.7zM361.3 285.7V238.3h1V285.7zM362.3 285.7V245.9h1V285.7zM363.3 285.7V236.6h1V285.7zM364.3 285.7V239.5h1V285.7zM365.3 285.7V233.7h1V285.7zM366.3 285.7V260.9h1V285.7zM367.3 285.7V263.6h1V285.7zM368.3 285.7V271.2h1V285.7zM369.3 285.7V268.1h1V285.7zM370.3 285.7V269.6h1V285.7zM371.3 285.7V273.4h1V285.7zM372.3 285.7V272.5h1V285.7zM373.3 285.7V267.7h1V285.7zM374.3 285.7V272.1h1V285.7zM375.3 285.7V267.2h1V285.7zM376.3 285.7V271.1h1V285.7zM377.3 285.7V272.8h1V285.7zM378.3 285.7V269.6h1V285.7zM379.3 285.7V273.5h1V285.7zM380.3 285.7V276.3h1V285.7zM381.3 285.7V273.1h1V285.7zM382.3 285.7V268.5h1V285.7zM383.3 285.7V276.6h1V285.7zM384.3 285.7V276.5h1V285.7zM385.3 285.7V273.1h1V285.7zM386.3 285.7V271.1h1V285.7zM387.3 285.7V267.4h1V285.7zM388.3 285.7V273.7h1V285.7zM389.3 285.7V275.3h1V285.7zM390.3 285.7V278.1h1V285.7zM391.3 285.7V275.7h1V285.7zM392.3 285.7V279.2h1V285.7zM393.3 285.7V277.1h1V285.7zM394.3 285.7V279.3h1V285.7zM395.3 285.7V278.3h1V285.7zM396.3 285.7V277h1V285.7zM397.3 285.7V262.6h1V285.7zM398.3 285.7V261.8h1V285.7zM399.3 285.7V263.5h1V285.7zM400.3 285.7V262.3h1V285.7zM401.3 285.7V261.5h1V285.7zM402.3 285.7V262.9h1V285.7zM403.3 285.7V263.9h1V285.7zM404.3 285.7V258.5h1V285.7zM405.3 285.7V266.9h1V285.7zM406.3 285.7V268.1h1V285.7zM407.3 285.7V269.8h1V285.7zM408.3 285.7V267.9h1V285.7zM409.3 285.7V265.2h1V285.7zM410.3 285.7V270.4h1V285.7zM411.3 285.7V262.4h1V285.7zM412.3 285.7V266.5h1V285.7zM413.3 285.7V271.1h1V285.7zM414.3 285.7V269.9h1V285.7zM415.3 285.7V275.3h1V285.7zM416.3 285.7V276.5h1V285.7zM417.3 285.7V275.5h1V285.7zM418.3 285.7V268.2h1V285.7zM419.3 285.7V271.5h1V285.7zM420.3 285.7V261.3h1V285.7zM421.3 285.7V270.8h1V285.7zM422.3 285.7V271.3h1V285.7zM423.3 285.7V273h1V285.7zM424.3 285.7V264.3h1V285.7zM425.3 285.7V272.1h1V285.7zM426.3 285.7V258.7h1V285.7zM427.3 285.7V252.4h1V285.7zM428.3 285.7V257.5h1V285.7zM429.3 285.7V263.6h1V285.7zM430.3 285.7V255.5h1V285.7zM431.3 285.7V251.4h1V285.7zM432.3 285.7V254.1h1V285.7zM433.3 285.7V255.9h1V285.7zM434.3 285.7V241.2h1V285.7zM435.3 285.7V259.5h1V285.7zM436.3 285.7V257.1h1V285.7zM437.3 285.7V268.9h1V285.7zM438.3 285.7V263.8h1V285.7zM439.3 285.7V266.5h1V285.7zM440.3 285.7V269.3h1V285.7zM441.3 285.7V269.3h1V285.7zM442.3 285.7V273.9h1V285.7zM443.3 285.7V276h1V285.7zM444.3 285.7V276.2h1V285.7zM445.3 285.7V273.5h1V285.7zM446.3 285.7V265.1h1V285.7zM447.3 285.7V273.5h1V285.7zM448.3 285.7V266.7h1V285.7zM449.3 285.7V272h1V285.7zM450.3 285.7V268.6h1V285.7zM451.3 285.7V263.5h1V285.7zM452.3 285.7V251.5h1V285.7zM453.3 285.7V264.2h1V285.7zM454.3 285.7V263.1h1V285.7zM455.3 285.7V267.2h1V285.7zM456.3 285.7V256.4h1V285.7zM457.3 285.7V268.3h1V285.7zM458.3 285.7V261.6h1V285.7zM459.3 285.7V254.7h1V285.7zM460.3 285.7V271.8h1V285.7zM461.3 285.7V270.3h1V285.7zM462.3 285.7V267.9h1V285.7zM463.3 285.7V270h1V285.7zM464.3 285.7V261.5h1V285.7zM465.3 285.7V270.6h1V285.7zM466.3 285.7V270h1V285.7zM467.3 285.7V275.6h1V285.7zM468.3 285.7V275.9h1V285.7zM469.3 285.7V271.8h1V285.7zM470.3 285.7V261.5h1V285.7zM471.3 285.7V267.1h1V285.7zM472.3 285.7V261.6h1V285.7zM473.3 285.7V262.2h1V285.7zM474.3 285.7V257.2h1V285.7zM475.3 285.7V262.8h1V285.7zM476.3 285.7V269.9h1V285.7zM477.3 285.7V269.3h1V285.7zM478.3 285.7V274.8h1V285.7zM479.3 285.7V272h1V285.7zM480.3 285.7V266.9h1V285.7zM481.3 285.7V270.9h1V285.7zM482.3 285.7V262.7h1V285.7zM483.3 285.7V267.1h1V285.7zM484.3 285.7V258.2h1V285.7zM485.3 285.7V262.4h1V285.7zM486.3 285.7V267.8h1V285.7zM487.3 285.7V261h1V285.7zM488.3 285.7V273.6h1V285.7zM489.3 285.7V269h1V285.7zM490.3 285.7V264.1h1V285.7zM491.3 285.7V269.8h1V285.7zM492.3 285.7V268.3h1V285.7zM493.3 285.7V265.5h1V285.7zM494.3 285.7V267h1V285.7zM495.3 285.7V267h1V285.7zM496.3 285.7V267.8h1V285.7zM497.3 285.7V271.7h1V285.7zM498.3 285.7V271.5h1V285.7zM499.3 285.7V275h1V285.7zM500.3 285.7V269.6h1V285.7zM501.3 285.7V266h1V285.7zM502.3 285.7V259.3h1V285.7zM503.3 285.7V270.2h1V285.7zM504.3 285.7V274.9h1V285.7zM505.3 285.7V266.1h1V285.7zM506.3 285.7V260.7h1V285.7zM507.3 285.7V258.3h1V285.7zM508.3 285.7V251.1h1V285.7zM509.3 285.7V268h1V285.7zM510.3 285.7V268.6h1V285.7zM511.3 285.7V253.1h1V285.7zM512.3 285.7V262.6h1V285.7zM513.3 285.7V264.6h1V285.7zM514.3 285.7V267.1h1V285.7zM515.3 285.7V267h1V285.7zM516.3 285.7V270h1V285.7zM517.3 285.7V264.7h1V285.7zM518.3 285.7V259.6h1V285.7zM519.3 285.7V267.5h1V285.7zM520.3 285.7V266h1V285.7zM521.3 285.7V259.3h1V285.7zM522.3 285.7V264.3h1V285.7zM523.3 285.7V269.2h1V285.7zM524.3 285.7V255h1V285.7zM525.3 285.7V262.3h1V285.7zM526.3 285.7V277.6h1V285.7zM527.3 285.7V262.2h1V285.7zM528.3 285.7V258.6h1V285.7zM529.3 285.7V256h1V285.7zM530.3 285.7V253.4h1V285.7zM531.3 285.7V263.1h1V285.7zM532.3 285.7V263.4h1V285.7zM533.3 285.7V263.5h1V285.7zM534.3 285.7V263.9h1V285.7zM535.3 285.7V248.7h1V285.7zM536.3 285.7V256.6h1V285.7zM537.3 285.7V242.7h1V285.7zM538.3 285.7V256.6h1V285.7zM539.3 285.7V245.7h1V285.7zM540.3 285.7V259.7h1V285.7zM541.3 285.7V259h1V285.7zM542.3 285.7V260.5h1V285.7zM543.3 285.7V273.7h1V285.7zM544.3 285.7V272.8h1V285.7zM545.3 285.7V272.2h1V285.7zM546.3 285.7V269.1h1V285.7zM547.3 285.7V262.1h1V285.7zM548.3 285.7V244.1h1V285.7zM549.3 285.7V258.8h1V285.7zM550.3 285.7V268h1V285.7zM551.3 285.7V272.9h1V285.7zM552.3 285.7V273.1h1V285.7zM553.3 285.7V272.8h1V285.7zM554.3 285.7V270.9h1V285.7zM555.3 285.7V253.1h1V285.7zM556.3 285.7V258.2h1V285.7zM557.3 285.7V254.2h1V285.7zM558.3 285.7V258.4h1V285.7zM559.3 285.7V270.5h1V285.7zM560.3 285.7V274.1h1V285.7zM561.3 285.7V275h1V285.7zM562.3 285.7V275h1V285.7zM563.3 285.7V272.6h1V285.7zM564.3 285.7V262.4h1V285.7zM565.3 285.7V263.4h1V285.7zM566.3 285.7V267.7h1V285.7zM567.3 285.7V265.2h1V285.7zM568.3 285.7V263.3h1V285.7zM569.3 285.7V271.2h1V285.7zM570.3 285.7V267.3h1V285.7zM571.3 285.7V270.1h1V285.7zM572.3 285.7V271.2h1V285.7zM573.3 285.7V272.2h1V285.7zM574.3 285.7V268.9h1V285.7zM575.3 285.7V259.7h1V285.7zM576.3 285.7V264.7h1V285.7zM577.3 285.7V270.2h1V285.7zM578.3 285.7V274.7h1V285.7zM579.3 285.7V277.2h1V285.7zM580.3 285.7V276.1h1V285.7zM581.3 285.7V269h1V285.7zM582.3 285.7V266.9h1V285.7zM583.3 285.7V268.2h1V285.7zM584.3 285.7V270.9h1V285.7zM585.3 285.7V273h1V285.7zM586.3 285.7V269.1h1V285.7zM587.3 285.7V269.2h1V285.7zM588.3 285.7V261.7h1V285.7zM589.3 285.7V255.9h1V285.7zM590.3 285.7V259.4h1V285.7zM591.3 285.7V256.5h1V285.7zM592.3 285.7V233.5h1V285.7zM593.3 285.7V258.4h1V285.7zM594.3 285.7V261.6h1V285.7zM595.3 285.7V251.8h1V285.7zM596.3 285.7V255.7h1V285.7zM597.3 285.7V272h1V285.7zM598.3 285.7V267.6h1V285.7zM599.3 285.7V257.1h1V285.7zM600.3 285.7V261.4h1V285.7zM601.3 285.7V261.4h1V285.7zM602.3 285.7V268.9h1V285.7zM603.3 285.7V256.7h1V285.7zM604.3 285.7V233.5h1V285.7zM605.3 285.7V236.5h1V285.7zM606.3 285.7V223.9h1V285.7zM607.3 285.7V228.5h1V285.7zM608.3 285.7V239.2h1V285.7zM609.3 285.7V237.7h1V285.7zM610.3 285.7V225.9h1V285.7zM611.3 285.7V253.7h1V285.7zM612.3 285.7V245.6h1V285.7zM613.3 285.7V252.2h1V285.7zM614.3 285.7V248.1h1V285.7zM615.3 285.7V258.4h1V285.7zM616.3 285.7V264.7h1V285.7zM617.3 285.7V266.2h1V285.7zM618.3 285.7V264.7h1V285.7zM619.3 285.7V269.2h1V285.7zM620.3 285.7V269.9h1V285.7zM621.3 285.7V270.8h1V285.7zM622.3 285.7V271.1h1V285.7zM623.3 285.7V270.1h1V285.7zM624.3 285.7V269.5h1V285.7zM625.3 285.7V259.2h1V285.7zM626.3 285.7V267.6h1V285.7zM627.3 285.7V259.8h1V285.7zM628.3 285.7V252.8h1V285.7zM629.3 285.7V244h1V285.7zM630.3 285.7V269.6h1V285.7zM631.3 285.7V264h1V285.7zM632.3 285.7V251.9h1V285.7zM633.3 285.7V255.3h1V285.7zM634.3 285.7V246.3h1V285.7zM635.3 285.7V250.5h1V285.7zM636.3 285.7V229.7h1V285.7zM637.3 285.7V215.2h1V285.7zM638.3 285.7V164.4h1V285.7zM639.3 285.7V179.8h1V285.7zM640.3 285.7V163.5h1V285.7zM641.3 285.7V186.1h1V285.7zM642.3 285.7V215h1V285.7zM643.3 285.7V201.3h1V285.7zM644.3 285.7V214.4h1V285.7zM645.3 285.7V192.1h1V285.7zM646.3 285.7V191.8h1V285.7zM647.3 285.7V210.2h1V285.7zM648.3 285.7V248.7h1V285.7zM649.3 285.7V262.5h1V285.7zM650.3 285.7V258.4h1V285.7zM651.3 285.7V253.3h1V285.7zM652.3 285.7V230.2h1V285.7zM653.3 285.7V238.5h1V285.7zM654.3 285.7V223.1h1V285.7zM655.3 285.7V250.7h1V285.7zM656.3 285.7V250.4h1V285.7zM657.3 285.7V257.2h1V285.7zM658.3 285.7V250.5h1V285.7zM659.3 285.7V246.7h1V285.7zM660.3 285.7V237.6h1V285.7zM661.3 285.7V210.6h1V285.7zM662.3 285.7V213.1h1V285.7zM663.3 285.7V209.5h1V285.7zM664.3 285.7V228.7h1V285.7zM665.3 285.7V251.8h1V285.7zM666.3 285.7V232.3h1V285.7zM667.3 285.7V223.5h1V285.7zM668.3 285.7V215.1h1V285.7zM669.3 285.7V250.5h1V285.7zM670.3 285.7V236.5h1V285.7zM671.3 285.7V228.5h1V285.7zM672.3 285.7V239.8h1V285.7zM673.3 285.7V265.9h1V285.7zM674.3 285.7V246.4h1V285.7zM675.3 285.7V232.6h1V285.7zM676.3 285.7V221.4h1V285.7zM677.3 285.7V223h1V285.7zM678.3 285.7V248.9h1V285.7zM679.3 285.7V203h1V285.7zM680.3 285.7V167.8h1V285.7zM681.3 285.7V169.7h1V285.7zM682.3 285.7V205.2h1V285.7zM683.3 285.7V207.1h1V285.7zM684.3 285.7V190.5h1V285.7zM685.3 285.7V182.7h1V285.7zM686.3 285.7V136.7h1V285.7zM687.3 285.7V166.4h1V285.7zM688.3 285.7V213.4h1V285.7zM689.3 285.7V214.6h1V285.7zM690.3 285.7V207.9h1V285.7zM691.3 285.7V200.1h1V285.7zM692.3 285.7V210.1h1V285.7zM693.3 285.7V234.1h1V285.7zM694.3 285.7V236.7h1V285.7zM695.3 285.7V253.1h1V285.7zM696.3 285.7V248.8h1V285.7zM697.3 285.7V223.8h1V285.7zM698.3 285.7V195.7h1V285.7zM699.3 285.7V204.4h1V285.7zM700.3 285.7V198.1h1V285.7zM701.3 285.7V182.4h1V285.7zM702.3 285.7V208.9h1V285.7zM703.3 285.7V239h1V285.7zM704.3 285.7V246.6h1V285.7zM705.3 285.7V246.1h1V285.7zM706.3 285.7V245h1V285.7zM707.3 285.7V220.9h1V285.7zM708.3 285.7V236.5h1V285.7zM709.3 285.7V238.8h1V285.7zM710.3 285.7V238h1V285.7zM711.3 285.7V219.5h1V285.7zM712.3 285.7V223h1V285.7zM713.3 285.7V225.7h1V285.7zM714.3 285.7V207.2h1V285.7zM715.3 285.7V221.2h1V285.7zM716.3 285.7V255.2h1V285.7zM717.3 285.7V249.1h1V285.7zM718.3 285.7V234.1h1V285.7zM719.3 285.7V240.2h1V285.7zM720.3 285.7V232.9h1V285.7zM721.3 285.7V239.6h1V285.7zM722.3 285.7V231.6h1V285.7zM723.3 285.7V242.4h1V285.7zM724.3 285.7V239.1h1V285.7zM725.3 285.7V249.2h1V285.7zM726.3 285.7V243.7h1V285.7zM727.3 285.7V238.5h1V285.7zM728.3 285.7V230.1h1V285.7zM729.3 285.7V231.8h1V285.7zM730.3 285.7V240.2h1V285.7zM731.3 285.7V238.7h1V285.7zM732.3 285.7V249.9h1V285.7zM733.3 285.7V252.6h1V285.7zM734.3 285.7V228.7h1V285.7zM735.3 285.7V246.5h1V285.7zM736.3 285.7V240.4h1V285.7zM737.3 285.7V239.4h1V285.7zM738.3 285.7V228.7h1V285.7zM739.3 285.7V211.4h1V285.7zM740.3 285.7V209h1V285.7zM741.3 285.7V237.1h1V285.7zM742.3 285.7V248.9h1V285.7zM743.3 285.7V252.6h1V285.7zM744.3 285.7V262.6h1V285.7zM745.3 285.7V222.4h1V285.7zM746.3 285.7V201.5h1V285.7zM747.3 285.7V192.5h1V285.7zM748.3 285.7V186.4h1V285.7zM749.3 285.7V191.9h1V285.7zM750.3 285.7V233h1V285.7zM751.3 285.7V226.2h1V285.7zM752.3 285.7V223h1V285.7zM753.3 285.7V242.7h1V285.7zM754.3 285.7V263.1h1V285.7zM755.3 285.7V227.8h1V285.7zM756.3 285.7V178.9h1V285.7zM757.3 285.7V212.6h1V285.7zM758.3 285.7V234.5h1V285.7zM759.3 285.7V224.3h1V285.7zM760.3 285.7V232.9h1V285.7zM761.3 285.7V220.2h1V285.7zM765.3 285.7V194.5h1V285.7zM766.3 285.7V202.2h1V285.7zM767.3 285.7V222h1V285.7zM768.3 285.7V214.4h1V285.7zM769.3 285.7V185.1h1V285.7zM770.3 285.7V201.6h1V285.7zM771.3 285.7V200.9h1V285.7zM772.3 285.7V216.3h1V285.7zM773.3 285.7V237.6h1V285.7zM774.3 285.7V226.9h1V285.7zM775.3 285.7V206.7h1V285.7zM776.3 285.7V201.5h1V285.7zM777.3 285.7V229.2h1V285.7zM778.3 285.7V200.7h1V285.7zM779.3 285.7V236.5h1V285.7zM780.3 285.7V238.4h1V285.7zM781.3 285.7V236.8h1V285.7zM782.3 285.7V222.6h1V285.7zM783.3 285.7V206.5h1V285.7zM784.3 285.7V194.8h1V285.7zM785.3 285.7V187.4h1V285.7z" fill="url(#pg)"/>
<path d="M93.3 285.7V298.4h1V285.7zM94.3 285.7V301.2h1V285.7zM95.3 285.7V300.1h1V285.7zM96.3 285.7V303.3h1V285.7zM97.3 285.7V300h1V285.7zM98.3 285.7V300.6h1V285.7zM99.3 285.7V302.1h1V285.7zM100.3 285.7V299h1V285.7zM101.3 285.7V297h1V285.7zM102.3 285.7V297.4h1V285.7zM103.3 285.7V300.7h1V285.7zM104.3 285.7V297.6h1V285.7zM105.3 285.7V302.1h1V285.7zM106.3 285.7V299.2h1V285.7zM107.3 285.7V299.6h1V285.7zM108.3 285.7V296.9h1V285.7zM109.3 285.7V298.8h1V285.7zM110.3 285.7V297.4h1V285.7zM111.3 285.7V302.4h1V285.7zM112.3 285.7V314h1V285.7zM113.3 285.7V303h1V285.7zM114.3 285.7V312.2h1V285.7zM115.3 285.7V316.7h1V285.7zM116.3 285.7V311.6h1V285.7zM117.3 285.7V320.2h1V285.7zM118.3 285.7V302.8h1V285.7zM119.3 285.7V307.3h1V285.7zM120.3 285.7V304.6h1V285.7zM121.3 285.7V312.8h1V285.7zM122.3 285.7V304.8h1V285.7zM123.3 285.7V303.6h1V285.7zM124.3 285.7V302.1h1V285.7zM125.3 285.7V307.8h1V285.7zM126.3 285.7V305.2h1V285.7zM127.3 285.7V308.4h1V285.7zM128.3 285.7V317.8h1V285.7zM129.3 285.7V321.4h1V285.7zM130.3 285.7V315.9h1V285.7zM131.3 285.7V306.6h1V285.7zM132.3 285.7V299.4h1V285.7zM133.3 285.7V297.1h1V285.7zM134.3 285.7V299.4h1V285.7zM135.3 285.7V297.6h1V285.7zM136.3 285.7V301.1h1V285.7zM137.3 285.7V316.8h1V285.7zM138.3 285.7V310.7h1V285.7zM139.3 285.7V313.8h1V285.7zM140.3 285.7V317.7h1V285.7zM141.3 285.7V309.1h1V285.7zM142.3 285.7V308.6h1V285.7zM143.3 285.7V305h1V285.7zM144.3 285.7V300.8h1V285.7zM145.3 285.7V311.5h1V285.7zM146.3 285.7V314.5h1V285.7zM147.3 285.7V305.3h1V285.7zM148.3 285.7V304.1h1V285.7zM149.3 285.7V305.1h1V285.7zM150.3 285.7V302.5h1V285.7zM151.3 285.7V305.2h1V285.7zM152.3 285.7V315.5h1V285.7zM153.3 285.7V328h1V285.7zM154.3 285.7V313.3h1V285.7zM155.3 285.7V312.4h1V285.7zM156.3 285.7V311h1V285.7zM157.3 285.7V306.7h1V285.7zM158.3 285.7V304.3h1V285.7zM159.3 285.7V302.4h1V285.7zM160.3 285.7V309.7h1V285.7zM161.3 285.7V304.2h1V285.7zM162.3 285.7V304.2h1V285.7zM163.3 285.7V316h1V285.7zM164.3 285.7V309.3h1V285.7zM165.3 285.7V317.6h1V285.7zM166.3 285.7V324.3h1V285.7zM167.3 285.7V306.7h1V285.7zM168.3 285.7V304.7h1V285.7zM169.3 285.7V307.9h1V285.7zM170.3 285.7V305.1h1V285.7zM171.3 285.7V302.6h1V285.7zM172.3 285.7V299.5h1V285.7zM173.3 285.7V303.3h1V285.7zM174.3 285.7V318.9h1V285.7zM175.3 285.7V315.5h1V285.7zM176.3 285.7V322.8h1V285.7zM177.3 285.7V305.3h1V285.7zM178.3 285.7V310.7h1V285.7zM179.3 285.7V311.8h1V285.7zM180.3 285.7V327.2h1V285.7zM181.3 285.7V308.8h1V285.7zM182.3 285.7V301.7h1V285.7zM183.3 285.7V300.9h1V285.7zM184.3 285.7V299.2h1V285.7zM185.3 285.7V307.6h1V285.7zM186.3 285.7V303.4h1V285.7zM187.3 285.7V316.9h1V285.7zM188.3 285.7V310h1V285.7zM189.3 285.7V311.4h1V285.7zM190.3 285.7V307.3h1V285.7zM191.3 285.7V308.3h1V285.7zM192.3 285.7V304.1h1V285.7zM193.3 285.7V316.6h1V285.7zM194.3 285.7V300.9h1V285.7zM195.3 285.7V299.1h1V285.7zM196.3 285.7V295.8h1V285.7zM197.3 285.7V296.7h1V285.7zM198.3 285.7V297.7h1V285.7zM199.3 285.7V308.3h1V285.7zM200.3 285.7V303.2h1V285.7zM201.3 285.7V301.7h1V285.7zM202.3 285.7V308.5h1V285.7zM203.3 285.7V297.1h1V285.7zM204.3 285.7V299.9h1V285.7zM205.3 285.7V300.9h1V285.7zM206.3 285.7V305.1h1V285.7zM207.3 285.7V306.9h1V285.7zM208.3 285.7V309.1h1V285.7zM209.3 285.7V304.8h1V285.7zM210.3 285.7V310.1h1V285.7zM211.3 285.7V310.3h1V285.7zM212.3 285.7V302.3h1V285.7zM213.3 285.7V303.4h1V285.7zM214.3 285.7V309.6h1V285.7zM215.3 285.7V309h1V285.7zM216.3 285.7V304.4h1V285.7zM217.3 285.7V305.8h1V285.7zM218.3 285.7V298.6h1V285.7zM219.3 285.7V297.9h1V285.7zM220.3 285.7V307.6h1V285.7zM221.3 285.7V301.4h1V285.7zM222.3 285.7V312.1h1V285.7zM223.3 285.7V301.6h1V285.7zM224.3 285.7V298h1V285.7zM225.3 285.7V293.8h1V285.7zM226.3 285.7V299.7h1V285.7zM227.3 285.7V302.7h1V285.7zM228.3 285.7V302.5h1V285.7zM229.3 285.7V303.8h1V285.7zM230.3 285.7V304.2h1V285.7zM231.3 285.7V302.1h1V285.7zM232.3 285.7V299.8h1V285.7zM233.3 285.7V305h1V285.7zM234.3 285.7V299.3h1V285.7zM235.3 285.7V295.9h1V285.7zM236.3 285.7V299.7h1V285.7zM237.3 285.7V300.1h1V285.7zM238.3 285.7V305.3h1V285.7zM239.3 285.7V300h1V285.7zM240.3 285.7V296.7h1V285.7zM241.3 285.7V298.2h1V285.7zM242.3 285.7V296.1h1V285.7zM243.3 285.7V291.5h1V285.7zM244.3 285.7V294.4h1V285.7zM245.3 285.7V294.8h1V285.7zM246.3 285.7V297.6h1V285.7zM247.3 285.7V296.5h1V285.7zM248.3 285.7V300.2h1V285.7zM249.3 285.7V298.5h1V285.7zM250.3 285.7V294.7h1V285.7zM251.3 285.7V304.2h1V285.7zM252.3 285.7V301.8h1V285.7zM253.3 285.7V304.9h1V285.7zM254.3 285.7V302.8h1V285.7zM255.3 285.7V299.4h1V285.7zM256.3 285.7V294.4h1V285.7zM257.3 285.7V292.7h1V285.7zM258.3 285.7V296.6h1V285.7zM259.3 285.7V296.7h1V285.7zM260.3 285.7V304.8h1V285.7zM261.3 285.7V302.7h1V285.7zM262.3 285.7V297.3h1V285.7zM263.3 285.7V300.7h1V285.7zM264.3 285.7V299.1h1V285.7zM265.3 285.7V295.1h1V285.7zM266.3 285.7V300.2h1V285.7zM267.3 285.7V294.1h1V285.7zM268.3 285.7V293.6h1V285.7zM269.3 285.7V294h1V285.7zM270.3 285.7V300.7h1V285.7zM271.3 285.7V302.7h1V285.7zM272.3 285.7V296.6h1V285.7zM273.3 285.7V298.8h1V285.7zM274.3 285.7V301.6h1V285.7zM275.3 285.7V294.7h1V285.7zM276.3 285.7V297.2h1V285.7zM277.3 285.7V292.8h1V285.7zM278.3 285.7V293.9h1V285.7zM279.3 285.7V294h1V285.7zM280.3 285.7V294h1V285.7zM281.3 285.7V295.6h1V285.7zM282.3 285.7V296.2h1V285.7zM283.3 285.7V296.4h1V285.7zM284.3 285.7V294.3h1V285.7zM285.3 285.7V299.4h1V285.7zM286.3 285.7V300.6h1V285.7zM287.3 285.7V295.2h1V285.7zM288.3 285.7V296.7h1V285.7zM289.3 285.7V295.7h1V285.7zM290.3 285.7V292h1V285.7zM291.3 285.7V292.1h1V285.7zM292.3 285.7V294.2h1V285.7zM293.3 285.7V295.3h1V285.7zM294.3 285.7V302.9h1V285.7zM295.3 285.7V302.5h1V285.7zM296.3 285.7V303.1h1V285.7zM297.3 285.7V297.9h1V285.7zM298.3 285.7V304h1V285.7zM299.3 285.7V307.3h1V285.7zM300.3 285.7V299.9h1V285.7zM301.3 285.7V303.3h1V285.7zM302.3 285.7V298.7h1V285.7zM303.3 285.7V299.3h1V285.7zM304.3 285.7V298.7h1V285.7zM305.3 285.7V295.2h1V285.7zM306.3 285.7V293.3h1V285.7zM307.3 285.7V294.1h1V285.7zM308.3 285.7V295.2h1V285.7zM309.3 285.7V293.5h1V285.7zM310.3 285.7V292.5h1V285.7zM311.3 285.7V292.1h1V285.7zM312.3 285.7V295.1h1V285.7zM313.3 285.7V297.6h1V285.7zM314.3 285.7V293.3h1V285.7zM315.3 285.7V292h1V285.7zM316.3 285.7V292.3h1V285.7zM317.3 285.7V295.6h1V285.7zM318.3 285.7V292h1V285.7zM319.3 285.7V292.9h1V285.7zM320.3 285.7V299.7h1V285.7zM321.3 285.7V297.4h1V285.7zM322.3 285.7V294.5h1V285.7zM323.3 285.7V294.7h1V285.7zM324.3 285.7V292.2h1V285.7zM325.3 285.7V295.4h1V285.7zM326.3 285.7V293.3h1V285.7zM327.3 285.7V294.6h1V285.7zM328.3 285.7V298.3h1V285.7zM329.3 285.7V301.8h1V285.7zM330.3 285.7V306h1V285.7zM331.3 285.7V307.4h1V285.7zM332.3 285.7V305.5h1V285.7zM333.3 285.7V307.5h1V285.7zM334.3 285.7V300h1V285.7zM335.3 285.7V304.5h1V285.7zM336.3 285.7V304.1h1V285.7zM337.3 285.7V302.3h1V285.7zM338.3 285.7V304.6h1V285.7zM339.3 285.7V308h1V285.7zM340.3 285.7V305.5h1V285.7zM341.3 285.7V311.6h1V285.7zM342.3 285.7V312.7h1V285.7zM343.3 285.7V324.2h1V285.7zM344.3 285.7V309.6h1V285.7zM345.3 285.7V309h1V285.7zM346.3 285.7V319.1h1V285.7zM347.3 285.7V305.9h1V285.7zM348.3 285.7V310.3h1V285.7zM349.3 285.7V298.4h1V285.7zM350.3 285.7V300h1V285.7zM351.3 285.7V300.5h1V285.7zM352.3 285.7V304.2h1V285.7zM353.3 285.7V308.6h1V285.7zM354.3 285.7V306.6h1V285.7zM355.3 285.7V296.9h1V285.7zM356.3 285.7V297.6h1V285.7zM357.3 285.7V308.9h1V285.7zM358.3 285.7V341.3h1V285.7zM359.3 285.7V324.5h1V285.7zM360.3 285.7V352.3h1V285.7zM361.3 285.7V323.2h1V285.7zM362.3 285.7V332.8h1V285.7zM363.3 285.7V334.1h1V285.7zM364.3 285.7V325.1h1V285.7zM365.3 285.7V312.2h1V285.7zM366.3 285.7V304.6h1V285.7zM367.3 285.7V314.9h1V285.7zM368.3 285.7V307.5h1V285.7zM369.3 285.7V323.8h1V285.7zM370.3 285.7V305.6h1V285.7zM371.3 285.7V306.3h1V285.7zM372.3 285.7V302.4h1V285.7zM373.3 285.7V308.2h1V285.7zM374.3 285.7V308.5h1V285.7zM375.3 285.7V302.5h1V285.7zM376.3 285.7V303.9h1V285.7zM377.3 285.7V298.3h1V285.7zM378.3 285.7V297.5h1V285.7zM379.3 285.7V299.6h1V285.7zM380.3 285.7V297.9h1V285.7zM381.3 285.7V301.1h1V285.7zM382.3 285.7V296.2h1V285.7zM383.3 285.7V298.7h1V285.7zM384.3 285.7V299.9h1V285.7zM385.3 285.7V296.2h1V285.7zM386.3 285.7V297.9h1V285.7zM387.3 285.7V309.6h1V285.7zM388.3 285.7V306.8h1V285.7zM389.3 285.7V300.9h1V285.7zM390.3 285.7V303.1h1V285.7zM391.3 285.7V313.7h1V285.7zM392.3 285.7V304h1V285.7zM393.3 285.7V300.1h1V285.7zM394.3 285.7V300.2h1V285.7zM395.3 285.7V299.7h1V285.7zM396.3 285.7V295.5h1V285.7zM397.3 285.7V302.2h1V285.7zM398.3 285.7V324.1h1V285.7zM399.3 285.7V317.4h1V285.7zM400.3 285.7V311.7h1V285.7zM401.3 285.7V312.6h1V285.7zM402.3 285.7V308.3h1V285.7zM403.3 285.7V305.5h1V285.7zM404.3 285.7V306h1V285.7zM405.3 285.7V310.6h1V285.7zM406.3 285.7V311.4h1V285.7zM407.3 285.7V307.6h1V285.7zM408.3 285.7V310.6h1V285.7zM409.3 285.7V301.2h1V285.7zM410.3 285.7V301.3h1V285.7zM411.3 285.7V306.5h1V285.7zM412.3 285.7V307.4h1V285.7zM413.3 285.7V305.2h1V285.7zM414.3 285.7V298.7h1V285.7zM415.3 285.7V294.8h1V285.7zM416.3 285.7V293.4h1V285.7zM417.3 285.7V295.3h1V285.7zM418.3 285.7V296.7h1V285.7zM419.3 285.7V301.3h1V285.7zM420.3 285.7V306.2h1V285.7zM421.3 285.7V308.7h1V285.7zM422.3 285.7V318.6h1V285.7zM423.3 285.7V313.9h1V285.7zM424.3 285.7V300.6h1V285.7zM425.3 285.7V297.8h1V285.7zM426.3 285.7V305h1V285.7zM427.3 285.7V297.2h1V285.7zM428.3 285.7V309.3h1V285.7zM429.3 285.7V304h1V285.7zM430.3 285.7V306.1h1V285.7zM431.3 285.7V303.8h1V285.7zM432.3 285.7V311h1V285.7zM433.3 285.7V310.1h1V285.7zM434.3 285.7V314.7h1V285.7zM435.3 285.7V313.8h1V285.7zM436.3 285.7V320.8h1V285.7zM437.3 285.7V316.4h1V285.7zM438.3 285.7V304.2h1V285.7zM439.3 285.7V300.4h1V285.7zM440.3 285.7V299.2h1V285.7zM441.3 285.7V295.6h1V285.7zM442.3 285.7V297.2h1V285.7zM443.3 285.7V303.5h1V285.7zM444.3 285.7V300.8h1V285.7zM445.3 285.7V303.1h1V285.7zM446.3 285.7V305.8h1V285.7zM447.3 285.7V311.8h1V285.7zM448.3 285.7V312.5h1V285.7zM449.3 285.7V305.8h1V285.7zM450.3 285.7V302.4h1V285.7zM451.3 285.7V298.5h1V285.7zM452.3 285.7V297.1h1V285.7zM453.3 285.7V306.3h1V285.7zM454.3 285.7V297.4h1V285.7zM455.3 285.7V298.8h1V285.7zM456.3 285.7V304.4h1V285.7zM457.3 285.7V300.6h1V285.7zM458.3 285.7V300.9h1V285.7zM459.3 285.7V306.6h1V285.7zM460.3 285.7V299.8h1V285.7zM461.3 285.7V313.8h1V285.7zM462.3 285.7V307h1V285.7zM463.3 285.7V306.7h1V285.7zM464.3 285.7V314.6h1V285.7zM465.3 285.7V299.4h1V285.7zM466.3 285.7V298.5h1V285.7zM467.3 285.7V295.2h1V285.7zM468.3 285.7V300.9h1V285.7zM469.3 285.7V298.3h1V285.7zM470.3 285.7V303.3h1V285.7zM471.3 285.7V305.8h1V285.7zM472.3 285.7V306.4h1V285.7zM473.3 285.7V310.2h1V285.7zM474.3 285.7V304.1h1V285.7zM475.3 285.7V321.7h1V285.7zM476.3 285.7V308.8h1V285.7zM477.3 285.7V309.5h1V285.7zM478.3 285.7V310.9h1V285.7zM479.3 285.7V310.1h1V285.7zM480.3 285.7V312h1V285.7zM481.3 285.7V304.6h1V285.7zM482.3 285.7V301.1h1V285.7zM483.3 285.7V300.8h1V285.7zM484.3 285.7V301.8h1V285.7zM485.3 285.7V309.4h1V285.7zM486.3 285.7V303.5h1V285.7zM487.3 285.7V299.8h1V285.7zM488.3 285.7V296.1h1V285.7zM489.3 285.7V294.5h1V285.7zM490.3 285.7V299.5h1V285.7zM491.3 285.7V303.1h1V285.7zM492.3 285.7V301.1h1V285.7zM493.3 285.7V305.9h1V285.7zM494.3 285.7V306.5h1V285.7zM495.3 285.7V311.4h1V285.7zM496.3 285.7V303.4h1V285.7zM497.3 285.7V300.1h1V285.7zM498.3 285.7V295.5h1V285.7zM499.3 285.7V292.4h1V285.7zM500.3 285.7V290.9h1V285.7zM501.3 285.7V292.8h1V285.7zM502.3 285.7V290.6h1V285.7zM503.3 285.7V293.9h1V285.7zM504.3 285.7V294.4h1V285.7zM505.3 285.7V299.7h1V285.7zM506.3 285.7V309.2h1V285.7zM507.3 285.7V314.2h1V285.7zM508.3 285.7V299.8h1V285.7zM509.3 285.7V297.6h1V285.7zM510.3 285.7V297.8h1V285.7zM511.3 285.7V304.6h1V285.7zM512.3 285.7V301h1V285.7zM513.3 285.7V308.9h1V285.7zM514.3 285.7V307.9h1V285.7zM515.3 285.7V302.1h1V285.7zM516.3 285.7V307.3h1V285.7zM517.3 285.7V301.1h1V285.7zM518.3 285.7V307.6h1V285.7zM519.3 285.7V296.3h1V285.7zM520.3 285.7V299h1V285.7zM521.3 285.7V300.1h1V285.7zM522.3 285.7V298.7h1V285.7zM523.3 285.7V302.7h1V285.7zM524.3 285.7V306.3h1V285.7zM525.3 285.7V304.8h1V285.7zM526.3 285.7V321.1h1V285.7zM527.3 285.7V321h1V285.7zM528.3 285.7V322.1h1V285.7zM529.3 285.7V331h1V285.7zM530.3 285.7V325h1V285.7zM531.3 285.7V331h1V285.7zM532.3 285.7V317.8h1V285.7zM533.3 285.7V324.3h1V285.7zM534.3 285.7V327h1V285.7zM535.3 285.7V327.2h1V285.7zM536.3 285.7V312.6h1V285.7zM537.3 285.7V315.3h1V285.7zM538.3 285.7V311.2h1V285.7zM539.3 285.7V314.1h1V285.7zM540.3 285.7V307.1h1V285.7zM541.3 285.7V308.9h1V285.7zM542.3 285.7V302.6h1V285.7zM543.3 285.7V316.1h1V285.7zM544.3 285.7V307.3h1V285.7zM545.3 285.7V311.3h1V285.7zM546.3 285.7V322.1h1V285.7zM547.3 285.7V316.9h1V285.7zM548.3 285.7V305.6h1V285.7zM549.3 285.7V307.2h1V285.7zM550.3 285.7V298.8h1V285.7zM551.3 285.7V302.4h1V285.7zM552.3 285.7V303.8h1V285.7zM553.3 285.7V303h1V285.7zM554.3 285.7V306.9h1V285.7zM555.3 285.7V318.1h1V285.7zM556.3 285.7V312h1V285.7zM557.3 285.7V305.1h1V285.7zM558.3 285.7V312h1V285.7zM559.3 285.7V308.6h1V285.7zM560.3 285.7V306.1h1V285.7zM561.3 285.7V302.1h1V285.7zM562.3 285.7V308.8h1V285.7zM563.3 285.7V303.3h1V285.7zM564.3 285.7V299.4h1V285.7zM565.3 285.7V304h1V285.7zM566.3 285.7V302.5h1V285.7zM567.3 285.7V307.4h1V285.7zM568.3 285.7V305.6h1V285.7zM569.3 285.7V305.2h1V285.7zM570.3 285.7V312.2h1V285.7zM571.3 285.7V308.9h1V285.7zM572.3 285.7V309.2h1V285.7zM573.3 285.7V313h1V285.7zM574.3 285.7V320.7h1V285.7zM575.3 285.7V316.1h1V285.7zM576.3 285.7V304.9h1V285.7zM577.3 285.7V307.8h1V285.7zM578.3 285.7V297.2h1V285.7zM579.3 285.7V300h1V285.7zM580.3 285.7V312.2h1V285.7zM581.3 285.7V324.1h1V285.7zM582.3 285.7V332.9h1V285.7zM583.3 285.7V318.7h1V285.7zM584.3 285.7V310h1V285.7zM585.3 285.7V310.6h1V285.7zM586.3 285.7V310h1V285.7zM587.3 285.7V321.7h1V285.7zM588.3 285.7V319.6h1V285.7zM589.3 285.7V319.6h1V285.7zM590.3 285.7V320h1V285.7zM591.3 285.7V334.2h1V285.7zM592.3 285.7V333h1V285.7zM593.3 285.7V326.3h1V285.7zM594.3 285.7V316h1V285.7zM595.3 285.7V309.9h1V285.7zM596.3 285.7V319.8h1V285.7zM597.3 285.7V313h1V285.7zM598.3 285.7V303.9h1V285.7zM599.3 285.7V301.3h1V285.7zM600.3 285.7V300.6h1V285.7zM601.3 285.7V299.6h1V285.7zM602.3 285.7V305.8h1V285.7zM603.3 285.7V307.1h1V285.7zM604.3 285.7V314.2h1V285.7zM605.3 285.7V310.8h1V285.7zM606.3 285.7V316.7h1V285.7zM607.3 285.7V313.3h1V285.7zM608.3 285.7V326.2h1V285.7zM609.3 285.7V326.2h1V285.7zM610.3 285.7V321.5h1V285.7zM611.3 285.7V312.5h1V285.7zM612.3 285.7V313.8h1V285.7zM613.3 285.7V308h1V285.7zM614.3 285.7V298.4h1V285.7zM615.3 285.7V305.4h1V285.7zM616.3 285.7V310.8h1V285.7zM617.3 285.7V311h1V285.7zM618.3 285.7V311.6h1V285.7zM619.3 285.7V315.6h1V285.7zM620.3 285.7V307.1h1V285.7zM621.3 285.7V310.2h1V285.7zM622.3 285.7V321h1V285.7zM623.3 285.7V314.4h1V285.7zM624.3 285.7V323.4h1V285.7zM625.3 285.7V312.6h1V285.7zM626.3 285.7V310.6h1V285.7zM627.3 285.7V323.4h1V285.7zM628.3 285.7V330.3h1V285.7zM629.3 285.7V331.7h1V285.7zM630.3 285.7V318.3h1V285.7zM631.3 285.7V311.1h1V285.7zM632.3 285.7V305.7h1V285.7zM633.3 285.7V297.8h1V285.7zM634.3 285.7V308.3h1V285.7zM635.3 285.7V321.8h1V285.7zM636.3 285.7V341.6h1V285.7zM637.3 285.7V354.8h1V285.7zM638.3 285.7V375.3h1V285.7zM639.3 285.7V367.8h1V285.7zM640.3 285.7V363.5h1V285.7zM641.3 285.7V359.4h1V285.7zM642.3 285.7V334.3h1V285.7zM643.3 285.7V333.1h1V285.7zM644.3 285.7V341.8h1V285.7zM645.3 285.7V345.2h1V285.7zM646.3 285.7V341.3h1V285.7zM647.3 285.7V350h1V285.7zM648.3 285.7V357h1V285.7zM649.3 285.7V352.9h1V285.7zM650.3 285.7V376.2h1V285.7zM651.3 285.7V337.5h1V285.7zM652.3 285.7V349.1h1V285.7zM653.3 285.7V346.1h1V285.7zM654.3 285.7V332.9h1V285.7zM655.3 285.7V332.2h1V285.7zM656.3 285.7V346.2h1V285.7zM657.3 285.7V345.4h1V285.7zM658.3 285.7V335.7h1V285.7zM659.3 285.7V337.8h1V285.7zM660.3 285.7V332.1h1V285.7zM661.3 285.7V372.2h1V285.7zM662.3 285.7V333.4h1V285.7zM663.3 285.7V329.8h1V285.7zM664.3 285.7V348.3h1V285.7zM665.3 285.7V333.4h1V285.7zM666.3 285.7V325.9h1V285.7zM667.3 285.7V332.8h1V285.7zM668.3 285.7V339.3h1V285.7zM669.3 285.7V334.8h1V285.7zM670.3 285.7V343.1h1V285.7zM671.3 285.7V339.9h1V285.7zM672.3 285.7V318.2h1V285.7zM673.3 285.7V317.3h1V285.7zM674.3 285.7V308.2h1V285.7zM675.3 285.7V317.9h1V285.7zM676.3 285.7V338.2h1V285.7zM677.3 285.7V336.1h1V285.7zM678.3 285.7V371.6h1V285.7zM679.3 285.7V346.5h1V285.7zM680.3 285.7V345.1h1V285.7zM681.3 285.7V341.8h1V285.7zM682.3 285.7V379.5h1V285.7zM683.3 285.7V347h1V285.7zM684.3 285.7V343.5h1V285.7zM685.3 285.7V354.4h1V285.7zM686.3 285.7V340.1h1V285.7zM687.3 285.7V369.2h1V285.7zM688.3 285.7V347.9h1V285.7zM689.3 285.7V352.6h1V285.7zM690.3 285.7V351.6h1V285.7zM691.3 285.7V366.5h1V285.7zM692.3 285.7V363.9h1V285.7zM693.3 285.7V358.6h1V285.7zM694.3 285.7V382.5h1V285.7zM695.3 285.7V355.9h1V285.7zM696.3 285.7V383h1V285.7zM697.3 285.7V339.1h1V285.7zM698.3 285.7V350.8h1V285.7zM699.3 285.7V351.7h1V285.7zM700.3 285.7V371.8h1V285.7zM701.3 285.7V413.6h1V285.7zM702.3 285.7V384h1V285.7zM703.3 285.7V368.3h1V285.7zM704.3 285.7V351.1h1V285.7zM705.3 285.7V368.6h1V285.7zM706.3 285.7V338.6h1V285.7zM707.3 285.7V339.9h1V285.7zM708.3 285.7V326.2h1V285.7zM709.3 285.7V324.1h1V285.7zM710.3 285.7V336.2h1V285.7zM711.3 285.7V333.8h1V285.7zM712.3 285.7V349.8h1V285.7zM713.3 285.7V328.2h1V285.7zM714.3 285.7V328.1h1V285.7zM715.3 285.7V311.5h1V285.7zM716.3 285.7V320.7h1V285.7zM717.3 285.7V316h1V285.7zM718.3 285.7V334.3h1V285.7zM719.3 285.7V331.1h1V285.7zM720.3 285.7V327.7h1V285.7zM721.3 285.7V324.8h1V285.7zM722.3 285.7V345.7h1V285.7zM723.3 285.7V321.6h1V285.7zM724.3 285.7V322.2h1V285.7zM725.3 285.7V318.8h1V285.7zM726.3 285.7V312.2h1V285.7zM727.3 285.7V313.7h1V285.7zM728.3 285.7V329.3h1V285.7zM729.3 285.7V310.1h1V285.7zM730.3 285.7V333.5h1V285.7zM731.3 285.7V317.2h1V285.7zM732.3 285.7V334h1V285.7zM733.3 285.7V336.5h1V285.7zM734.3 285.7V327.3h1V285.7zM735.3 285.7V324.2h1V285.7zM736.3 285.7V320.9h1V285.7zM737.3 285.7V315.3h1V285.7zM738.3 285.7V319.9h1V285.7zM739.3 285.7V317h1V285.7zM740.3 285.7V324.4h1V285.7zM741.3 285.7V323.9h1V285.7zM742.3 285.7V318.9h1V285.7zM743.3 285.7V313.6h1V285.7zM744.3 285.7V326h1V285.7zM745.3 285.7V333.9h1V285.7zM746.3 285.7V333.2h1V285.7zM747.3 285.7V341.7h1V285.7zM748.3 285.7V356.2h1V285.7zM749.3 285.7V358.6h1V285.7zM750.3 285.7V327.6h1V285.7zM751.3 285.7V332h1V285.7zM752.3 285.7V322.5h1V285.7zM753.3 285.7V319.3h1V285.7zM754.3 285.7V337.2h1V285.7zM755.3 285.7V349.7h1V285.7zM756.3 285.7V346.9h1V285.7zM757.3 285.7V370.8h1V285.7zM758.3 285.7V396h1V285.7zM759.3 285.7V397.9h1V285.7zM760.3 285.7V374.9h1V285.7zM761.3 285.7V346.8h1V285.7zM765.3 285.7V353.2h1V285.7zM766.3 285.7V359h1V285.7zM767.3 285.7V361.6h1V285.7zM768.3 285.7V347.3h1V285.7zM769.3 285.7V326.7h1V285.7zM770.3 285.7V326.1h1V285.7zM771.3 285.7V322.9h1V285.7zM772.3 285.7V317.9h1V285.7zM773.3 285.7V341.7h1V285.7zM774.3 285.7V325.1h1V285.7zM775.3 285.7V343.8h1V285.7zM776.3 285.7V347.2h1V285.7zM777.3 285.7V357h1V285.7zM778.3 285.7V356.9h1V285.7zM779.3 285.7V335.3h1V285.7zM780.3 285.7V335.6h1V285.7zM781.3 285.7V349.7h1V285.7zM782.3 285.7V334.1h1V285.7zM783.3 285.7V370.2h1V285.7zM784.3 285.7V349.3h1V285.7zM785.3 285.7V369.7h1V285.7z" fill="url(#pr)"/>
<path d="M91 285.7H788" stroke="#0a1a0a" stroke-width="1.2" fill="none"/>
<path d="M90.2 15V724.6" stroke="#383838" stroke-width="1.6" fill="none"/>
<path d="M89.4 724H788" stroke="#383838" stroke-width="1.2" fill="none"/>
<path d="M85 15H90M85 69.2H90M85 123.3H90M85 177.4H90M85 231.6H90M85 285.8H90M85 339.9H90M85 394.1H90M85 448.2H90M85 502.3H90M85 556.5H90M85 610.6H90M85 664.8H90M85 718.9H90M143.2 724V729.5M212.6 724V729.5M282 724V729.5M351.4 724V729.5M420.8 724V729.5M490.1 724V729.5M559.5 724V729.5M628.9 724V729.5M698.3 724V729.5M767.7 724V729.5" stroke="#222" stroke-width="1.2" fill="none"/>
<text x="78.6" y="69.5" text-anchor="end" style="letter-spacing:-0.4px">10,000</text>
<text x="78.6" y="123.6" text-anchor="end" style="letter-spacing:-0.4px">7,500</text>
<text x="78.6" y="177.8" text-anchor="end" style="letter-spacing:-0.4px">5,000</text>
<text x="78.6" y="231.9" text-anchor="end" style="letter-spacing:-0.4px">2,500</text>
<text x="78.6" y="286.1" text-anchor="end" style="letter-spacing:-0.4px">0</text>
<text x="78.6" y="340.2" text-anchor="end" style="letter-spacing:-0.4px">-2,500</text>
<text x="78.6" y="394.4" text-anchor="end" style="letter-spacing:-0.4px">-5,000</text>
<text x="78.6" y="448.5" text-anchor="end" style="letter-spacing:-0.4px">-7,500</text>
<text x="78.6" y="502.6" text-anchor="end" style="letter-spacing:-0.4px">-10,000</text>
<text x="78.6" y="556.8" text-anchor="end" style="letter-spacing:-0.4px">-12,500</text>
<text x="78.6" y="610.9" text-anchor="end" style="letter-spacing:-0.4px">-15,000</text>
<text x="78.6" y="665.1" text-anchor="end" style="letter-spacing:-0.4px">-17,500</text>
<text x="78.6" y="719.2" text-anchor="end" style="letter-spacing:-0.4px">-20,000</text>
<text x="142.2" y="748.6" text-anchor="middle">25/10/1999 08:00</text>
<text x="211.6" y="748.6" text-anchor="middle">09/09/2002 08:00</text>
<text x="281" y="748.6" text-anchor="middle">27/07/2005 16:00</text>
<text x="350.4" y="748.6" text-anchor="middle">15/05/2008 08:00</text>
<text x="419.8" y="748.6" text-anchor="middle">23/03/2011 00:00</text>
<text x="489.1" y="748.6" text-anchor="middle">27/01/2014 16:00</text>
<text x="558.5" y="748.6" text-anchor="middle">04/12/2016 08:00</text>
<text x="627.9" y="748.6" text-anchor="middle">08/10/2019 08:00</text>
<text x="697.3" y="748.6" text-anchor="middle">08/08/2022 16:00</text>
<text x="392.8" y="771" text-anchor="middle">Date</text>
<text transform="translate(28,368.5) rotate(-90)" text-anchor="middle" style="font-size:12.5px">Profit/Loss ($)</text>
<rect x="273" y="777" width="6" height="16" fill="url(#pg)"/>
<text x="288" y="791">Profit</text>
<rect x="347" y="777" width="6" height="16" fill="#ff0000"/>
<text x="361" y="791">Loss</text>
<g stroke="#2c9b3a" stroke-width="1" fill="none"><path d="M415 777.5H420.5V792.5H415M415 784l5.5-5.5M415 790l5.5-5.5"/></g>
<text x="430.5" y="791">Run-up</text>
<g stroke="#ff2020" stroke-width="1" fill="none"><path d="M500 777.5H505.5V792.5H500M500 784l5.5-5.5M500 790l5.5-5.5"/></g>
<text x="515.5" y="791">Drawdown</text>
</svg>
</body></html>
